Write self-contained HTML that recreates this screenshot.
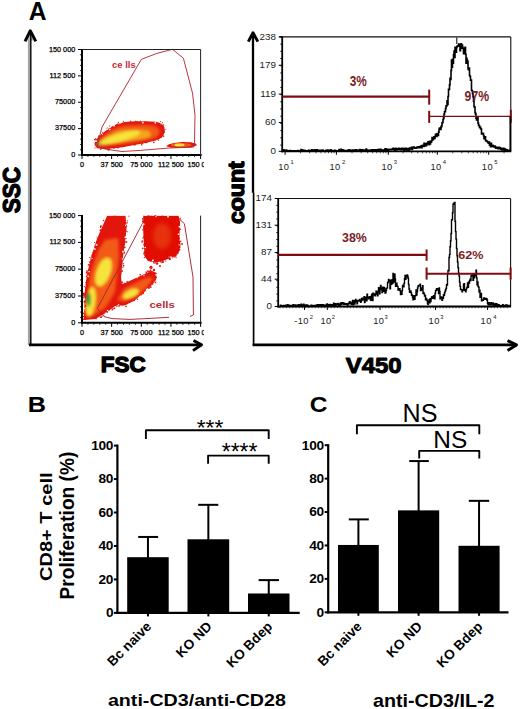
<!DOCTYPE html>
<html><head><meta charset="utf-8"><style>
html,body{margin:0;padding:0;background:#fff;}
body{width:520px;height:709px;overflow:hidden;}
svg{display:block;font-family:"Liberation Sans",sans-serif;}
</style></head><body>
<svg width="520" height="709" viewBox="0 0 520 709">
<rect width="520" height="709" fill="#fff"/>
<text transform="translate(28.68 19.50) scale(0.9879 1)" font-size="24.93" font-weight="bold" fill="#000">A</text>
<rect x="27.90" y="34.00" width="2.40" height="311.00" fill="#a2a2a2"/>
<path d="M27 40.6 L30.4 33.5 L34 40.6 Z" fill="#b0b0b0"/>
<line x1="30.80" y1="31.00" x2="30.80" y2="345.40" stroke="#000" stroke-width="1.40"/>
<path d="M25.0 41.4 L30.3 30.7 L35.8 41.4" fill="none" stroke="#000" stroke-width="2.90" stroke-linejoin="round"/>
<line x1="29.00" y1="344.80" x2="202.00" y2="344.80" stroke="#000" stroke-width="2.70"/>
<path d="M193.5 340.4 L201.5 344.8 L193.0 350.6" fill="none" stroke="#000" stroke-width="2.90" stroke-linejoin="round"/>
<text transform="translate(20.00 213.33) rotate(-90) scale(0.9189 1)" font-size="24.65" font-weight="bold" fill="#000" stroke="#000" stroke-width="1.30" stroke-linejoin="round">SSC</text>
<text transform="translate(100.79 371.73) scale(1.0288 1)" font-size="21.83" font-weight="bold" fill="#000" stroke="#000" stroke-width="1.30" stroke-linejoin="round">FSC</text>
<line x1="253.00" y1="33.00" x2="253.00" y2="192.80" stroke="#000" stroke-width="2.30"/>
<line x1="253.60" y1="192.60" x2="253.60" y2="345.40" stroke="#000" stroke-width="1.70"/>
<path d="M248.3 41.6 L253.0 32.8 L257.9 41.6" fill="none" stroke="#000" stroke-width="2.90" stroke-linejoin="round"/>
<line x1="252.60" y1="344.90" x2="516.00" y2="344.90" stroke="#000" stroke-width="2.70"/>
<path d="M507.5 340.6 L516.5 344.9 L507.5 350.5" fill="none" stroke="#000" stroke-width="2.90" stroke-linejoin="round"/>
<text transform="translate(243.74 224.07) rotate(-90) scale(1.0899 1)" font-size="21.20" font-weight="bold" fill="#000" stroke="#000" stroke-width="1.30" stroke-linejoin="round">count</text>
<text transform="translate(345.66 372.87) scale(1.0446 1)" font-size="22.96" font-weight="bold" fill="#000" stroke="#000" stroke-width="1.00" stroke-linejoin="round">V450</text>
<defs><clipPath id="p2clip"><rect x="82.5" y="215.6" width="118" height="107"/></clipPath><clipPath id="p1clip"><rect x="82.5" y="49.5" width="118" height="105"/></clipPath></defs>
<defs><clipPath id="xclip"><rect x="0" y="0" width="204" height="709"/></clipPath></defs>
<defs>
<filter id="bl1" x="-20%" y="-20%" width="140%" height="140%"><feGaussianBlur stdDeviation="1.6"/></filter>
<filter id="bl2" x="-20%" y="-20%" width="140%" height="140%"><feGaussianBlur stdDeviation="0.5"/></filter>
<filter id="bl3" x="-50%" y="-50%" width="200%" height="200%"><feGaussianBlur stdDeviation="2.2"/></filter>
</defs>
<path d="M94.2 144.6 L95.5 141.0 L97.7 137.7 L101.5 134.0 L105.8 130.8 L111.0 127.0 L117.3 123.8 L125.0 122.0 L135.0 121.2 L145.0 121.2 L156.0 121.8 L161.5 123.5 L164.3 127.0 L165.0 132.0 L162.0 137.5 L156.0 140.5 L140.0 144.0 L122.0 147.3 L106.0 149.0 L97.0 148.3 Z" fill="#e3120b" filter="url(#bl2)"/>
<g filter="url(#bl1)">
<path d="M98.9 141.9 L100.0 139.3 L101.9 136.9 L105.2 134.3 L108.9 132.0 L113.4 129.2 L118.8 126.9 L125.4 125.6 L134.0 125.1 L142.6 125.1 L152.1 125.5 L156.8 126.7 L159.2 129.2 L159.8 132.8 L157.2 136.8 L152.1 139.0 L138.3 141.5 L122.8 143.9 L109.1 145.1 L101.3 144.6 Z" fill="#f25a12"/>
<path d="M104.3 140.4 L105.2 138.8 L106.6 137.3 L109.2 135.7 L112.0 134.2 L115.4 132.5 L119.6 131.1 L124.7 130.2 L131.3 129.9 L137.9 129.9 L145.1 130.2 L148.8 130.9 L150.6 132.5 L151.1 134.8 L149.1 137.2 L145.1 138.6 L134.6 140.2 L122.7 141.6 L112.1 142.4 L106.2 142.1 Z" fill="#f3a51e"/>
<ellipse cx="119" cy="138" rx="22" ry="4.2" transform="rotate(-16 119 138)" fill="#f6e33a"/>
<ellipse cx="99.5" cy="143.5" rx="2.6" ry="2.2" fill="#9ccf3c"/>
</g>
<g><rect x="106.8" y="128.0" width="1.0" height="1.0" fill="#dc1a10"/><rect x="162.1" y="127.0" width="1.5" height="1.5" fill="#dc1a10"/><rect x="156.1" y="139.6" width="1.1" height="1.1" fill="#ffffff"/><rect x="95.6" y="139.8" width="1.7" height="1.7" fill="#dc1a10"/><rect x="109.0" y="125.6" width="1.3" height="1.3" fill="#dc1a10"/><rect x="103.7" y="147.8" width="0.9" height="0.9" fill="#dc1a10"/><rect x="100.8" y="135.5" width="1.1" height="1.1" fill="#dc1a10"/><rect x="106.7" y="127.6" width="1.3" height="1.3" fill="#dc1a10"/><rect x="100.0" y="148.4" width="1.5" height="1.5" fill="#dc1a10"/><rect x="153.1" y="141.7" width="1.4" height="1.4" fill="#dc1a10"/><rect x="144.6" y="121.6" width="1.5" height="1.5" fill="#dc1a10"/><rect x="165.4" y="128.8" width="0.9" height="0.9" fill="#dc1a10"/><rect x="146.0" y="141.2" width="1.7" height="1.7" fill="#dc1a10"/><rect x="129.7" y="122.1" width="1.2" height="1.2" fill="#dc1a10"/><rect x="109.2" y="128.8" width="1.4" height="1.4" fill="#ffffff"/><rect x="126.2" y="144.9" width="1.0" height="1.0" fill="#dc1a10"/><rect x="145.3" y="142.6" width="0.9" height="0.9" fill="#dc1a10"/><rect x="162.7" y="129.1" width="1.4" height="1.4" fill="#dc1a10"/><rect x="121.5" y="146.1" width="1.2" height="1.2" fill="#dc1a10"/><rect x="161.6" y="134.0" width="1.2" height="1.2" fill="#dc1a10"/><rect x="94.5" y="147.4" width="1.0" height="1.0" fill="#dc1a10"/><rect x="117.9" y="122.5" width="1.6" height="1.6" fill="#ffffff"/><rect x="162.7" y="135.4" width="1.5" height="1.5" fill="#dc1a10"/><rect x="162.9" y="124.4" width="1.3" height="1.3" fill="#dc1a10"/><rect x="142.2" y="121.9" width="1.5" height="1.5" fill="#ffffff"/><rect x="158.0" y="139.7" width="1.1" height="1.1" fill="#dc1a10"/><rect x="122.9" y="120.9" width="1.0" height="1.0" fill="#dc1a10"/><rect x="123.9" y="145.9" width="1.1" height="1.1" fill="#dc1a10"/><rect x="113.5" y="147.9" width="1.1" height="1.1" fill="#dc1a10"/><rect x="106.9" y="128.2" width="1.5" height="1.5" fill="#dc1a10"/><rect x="160.4" y="123.4" width="1.2" height="1.2" fill="#ffffff"/><rect x="129.8" y="120.7" width="1.3" height="1.3" fill="#dc1a10"/><rect x="101.9" y="133.8" width="1.0" height="1.0" fill="#ffffff"/><rect x="108.8" y="147.6" width="0.9" height="0.9" fill="#dc1a10"/><rect x="154.6" y="122.1" width="1.5" height="1.5" fill="#ffffff"/><rect x="109.4" y="126.3" width="1.5" height="1.5" fill="#ffffff"/><rect x="144.5" y="141.6" width="1.2" height="1.2" fill="#dc1a10"/><rect x="117.7" y="122.3" width="1.0" height="1.0" fill="#dc1a10"/><rect x="107.8" y="149.2" width="1.5" height="1.5" fill="#dc1a10"/><rect x="120.1" y="122.2" width="1.3" height="1.3" fill="#ffffff"/><rect x="95.5" y="138.9" width="1.3" height="1.3" fill="#dc1a10"/><rect x="117.2" y="121.9" width="1.5" height="1.5" fill="#dc1a10"/><rect x="141.2" y="120.7" width="1.0" height="1.0" fill="#ffffff"/><rect x="162.0" y="122.3" width="1.0" height="1.0" fill="#dc1a10"/><rect x="107.1" y="148.6" width="1.2" height="1.2" fill="#dc1a10"/><rect x="141.0" y="144.1" width="1.4" height="1.4" fill="#dc1a10"/><rect x="140.0" y="120.8" width="1.3" height="1.3" fill="#dc1a10"/><rect x="95.4" y="141.6" width="1.6" height="1.6" fill="#dc1a10"/><rect x="112.1" y="126.9" width="1.0" height="1.0" fill="#dc1a10"/><rect x="94.2" y="144.5" width="0.9" height="0.9" fill="#ffffff"/><rect x="160.1" y="121.1" width="1.0" height="1.0" fill="#dc1a10"/><rect x="141.6" y="142.5" width="1.5" height="1.5" fill="#dc1a10"/><rect x="97.9" y="136.2" width="1.1" height="1.1" fill="#dc1a10"/><rect x="94.9" y="138.3" width="1.3" height="1.3" fill="#dc1a10"/><rect x="116.6" y="146.6" width="1.7" height="1.7" fill="#dc1a10"/><rect x="157.5" y="137.4" width="1.2" height="1.2" fill="#dc1a10"/><rect x="135.1" y="120.7" width="1.0" height="1.0" fill="#dc1a10"/><rect x="136.3" y="121.4" width="1.5" height="1.5" fill="#dc1a10"/><rect x="102.0" y="132.3" width="0.9" height="0.9" fill="#dc1a10"/><rect x="113.2" y="124.8" width="1.6" height="1.6" fill="#ffffff"/><rect x="95.2" y="140.3" width="1.6" height="1.6" fill="#ffffff"/><rect x="118.0" y="146.8" width="1.2" height="1.2" fill="#dc1a10"/><rect x="160.3" y="124.0" width="1.0" height="1.0" fill="#dc1a10"/><rect x="106.6" y="128.2" width="1.6" height="1.6" fill="#ffffff"/><rect x="133.9" y="144.0" width="1.6" height="1.6" fill="#dc1a10"/><rect x="116.4" y="121.9" width="1.4" height="1.4" fill="#ffffff"/><rect x="98.5" y="135.1" width="1.1" height="1.1" fill="#dc1a10"/><rect x="156.3" y="138.8" width="1.2" height="1.2" fill="#dc1a10"/><rect x="108.8" y="148.6" width="1.3" height="1.3" fill="#dc1a10"/><rect x="93.9" y="139.0" width="1.3" height="1.3" fill="#dc1a10"/></g>
<path d="M166.0 146.2 L169.0 144.3 L174.0 143.0 L182.0 142.1 L191.0 142.2 L196.3 143.8 L196.6 145.6 L191.0 147.4 L180.0 147.9 L171.0 147.6 Z" fill="#e3120b" filter="url(#bl2)"/>
<ellipse cx="181" cy="145" rx="10.5" ry="2.1" fill="#f25a12" filter="url(#bl2)"/>
<ellipse cx="179.5" cy="144.9" rx="5" ry="1.4" fill="#f6e33a" filter="url(#bl2)"/>
<path d="M102.0 127.0 L141.3 59.4 L156.9 53.4 L172.5 49.3 L183.4 58.2 L192.5 93.1 L195.0 115.0 L194.5 143.6 L193.5 147.0 L168.0 148.1 L140.4 150.4 L122.0 151.5 L105.8 149.2 L97.0 147.0 Z" fill="none" stroke="#b52a36" stroke-width="0.95" stroke-linejoin="round"/>
<text transform="translate(112.12 67.91) scale(1.0036 1)" font-size="9.39" font-weight="bold" fill="#c82a34">ce lls</text>
<g clip-path="url(#p2clip)">
<path d="M83.9 320.0 L84.7 292.7 L87.0 274.1 L91.6 255.5 L97.1 238.4 L103.3 224.4 L107.2 215.8 L125.5 215.8 L126.6 227.5 L125.0 243.0 L122.7 258.6 L121.1 277.2 L121.9 284.0 L124.2 283.5 L137.0 277.5 L146.0 273.5 L152.5 271.0 L157.0 273.5 L156.0 280.0 L150.0 287.0 L142.0 294.0 L134.0 301.0 L124.2 305.5 L115.7 305.5 L108.0 311.4 L95.5 319.1 Z" fill="#e3120b" filter="url(#bl2)"/>
<g filter="url(#bl1)">
<path d="M86.8 316.0 L87.5 296.0 L90.0 276.0 L94.0 262.0 L99.0 249.0 L105.0 240.0 L118.0 238.0 L119.0 255.0 L117.0 275.0 L115.0 292.0 L106.0 307.0 L93.0 316.0 Z" fill="#f25a12"/>
<path d="M117.0 300.0 L124.0 288.5 L137.0 282.0 L148.0 277.0 L153.0 278.0 L148.0 286.0 L138.0 295.0 L124.0 301.5 Z" fill="#f25a12"/>
<ellipse cx="103.5" cy="272" rx="7" ry="15" transform="rotate(20 103.5 272)" fill="#f6e33a"/>
<ellipse cx="90.5" cy="302" rx="5" ry="15" transform="rotate(8 90.5 302)" fill="#f6e33a"/>
<ellipse cx="131" cy="294" rx="8.5" ry="4.2" transform="rotate(-25 131 294)" fill="#f6e33a"/>
<ellipse cx="88.6" cy="299.5" rx="2.4" ry="7" fill="#3f9a38"/>
</g>
<g><rect x="97.5" y="239.6" width="1.4" height="1.4" fill="#dc140c"/><rect x="99.6" y="315.2" width="0.9" height="0.9" fill="#dc140c"/><rect x="90.6" y="258.6" width="0.9" height="0.9" fill="#ffffff"/><rect x="88.9" y="261.5" width="1.1" height="1.1" fill="#dc140c"/><rect x="112.5" y="215.8" width="1.4" height="1.4" fill="#dc140c"/><rect x="94.5" y="245.7" width="1.1" height="1.1" fill="#dc140c"/><rect x="143.0" y="274.7" width="1.4" height="1.4" fill="#ffffff"/><rect x="85.3" y="281.9" width="1.4" height="1.4" fill="#dc140c"/><rect x="114.4" y="307.6" width="1.0" height="1.0" fill="#dc140c"/><rect x="124.8" y="303.3" width="1.1" height="1.1" fill="#dc140c"/><rect x="82.8" y="318.3" width="1.6" height="1.6" fill="#dc140c"/><rect x="122.8" y="264.9" width="1.5" height="1.5" fill="#dc140c"/><rect x="84.6" y="284.7" width="1.1" height="1.1" fill="#ffffff"/><rect x="96.1" y="236.8" width="1.1" height="1.1" fill="#dc140c"/><rect x="125.0" y="224.7" width="1.3" height="1.3" fill="#ffffff"/><rect x="124.6" y="236.4" width="1.6" height="1.6" fill="#ffffff"/><rect x="125.5" y="241.2" width="1.7" height="1.7" fill="#dc140c"/><rect x="105.2" y="312.6" width="1.5" height="1.5" fill="#ffffff"/><rect x="95.7" y="236.2" width="1.4" height="1.4" fill="#ffffff"/><rect x="91.3" y="259.2" width="0.9" height="0.9" fill="#dc140c"/><rect x="143.0" y="274.5" width="1.1" height="1.1" fill="#dc140c"/><rect x="100.1" y="316.1" width="1.6" height="1.6" fill="#ffffff"/><rect x="106.7" y="311.8" width="1.0" height="1.0" fill="#dc140c"/><rect x="118.0" y="304.4" width="1.3" height="1.3" fill="#ffffff"/><rect x="84.0" y="298.5" width="1.1" height="1.1" fill="#ffffff"/><rect x="103.3" y="314.9" width="1.0" height="1.0" fill="#dc140c"/><rect x="136.6" y="277.1" width="1.1" height="1.1" fill="#ffffff"/><rect x="120.8" y="303.3" width="1.3" height="1.3" fill="#dc140c"/><rect x="124.3" y="222.1" width="1.0" height="1.0" fill="#dc140c"/><rect x="92.0" y="248.7" width="1.0" height="1.0" fill="#ffffff"/><rect x="142.8" y="292.7" width="1.0" height="1.0" fill="#dc140c"/><rect x="139.6" y="274.0" width="1.4" height="1.4" fill="#dc140c"/><rect x="145.8" y="289.2" width="1.6" height="1.6" fill="#ffffff"/><rect x="91.5" y="254.5" width="1.7" height="1.7" fill="#dc140c"/><rect x="85.9" y="275.6" width="1.6" height="1.6" fill="#dc140c"/><rect x="150.0" y="286.4" width="1.5" height="1.5" fill="#dc140c"/><rect x="82.2" y="312.5" width="1.7" height="1.7" fill="#dc140c"/><rect x="100.4" y="315.9" width="1.6" height="1.6" fill="#ffffff"/><rect x="87.4" y="275.6" width="1.5" height="1.5" fill="#ffffff"/><rect x="122.0" y="284.4" width="1.5" height="1.5" fill="#dc140c"/><rect x="125.8" y="225.3" width="1.3" height="1.3" fill="#dc140c"/><rect x="106.5" y="217.8" width="1.4" height="1.4" fill="#dc140c"/><rect x="87.8" y="264.0" width="1.6" height="1.6" fill="#dc140c"/><rect x="146.3" y="290.6" width="1.4" height="1.4" fill="#ffffff"/><rect x="108.0" y="309.2" width="1.4" height="1.4" fill="#dc140c"/><rect x="155.9" y="277.0" width="1.0" height="1.0" fill="#dc140c"/><rect x="121.4" y="281.6" width="1.6" height="1.6" fill="#dc140c"/><rect x="154.6" y="272.5" width="1.4" height="1.4" fill="#dc140c"/><rect x="121.3" y="263.2" width="1.3" height="1.3" fill="#dc140c"/><rect x="121.3" y="270.3" width="1.6" height="1.6" fill="#dc140c"/><rect x="111.6" y="309.3" width="1.2" height="1.2" fill="#dc140c"/><rect x="99.6" y="229.3" width="1.7" height="1.7" fill="#dc140c"/><rect x="93.8" y="248.3" width="1.2" height="1.2" fill="#ffffff"/><rect x="100.2" y="316.4" width="1.6" height="1.6" fill="#dc140c"/><rect x="101.4" y="315.8" width="1.1" height="1.1" fill="#dc140c"/><rect x="123.9" y="243.8" width="1.1" height="1.1" fill="#dc140c"/><rect x="140.6" y="294.1" width="1.3" height="1.3" fill="#dc140c"/><rect x="154.7" y="281.7" width="1.5" height="1.5" fill="#dc140c"/><rect x="99.8" y="317.0" width="1.0" height="1.0" fill="#dc140c"/><rect x="83.0" y="292.7" width="1.3" height="1.3" fill="#dc140c"/><rect x="113.5" y="307.6" width="1.5" height="1.5" fill="#dc140c"/><rect x="123.4" y="251.5" width="1.5" height="1.5" fill="#dc140c"/><rect x="123.9" y="234.9" width="1.3" height="1.3" fill="#dc140c"/><rect x="147.3" y="270.8" width="1.0" height="1.0" fill="#dc140c"/><rect x="126.6" y="281.0" width="1.2" height="1.2" fill="#dc140c"/><rect x="127.2" y="231.3" width="1.0" height="1.0" fill="#dc140c"/><rect x="99.9" y="226.5" width="1.4" height="1.4" fill="#dc140c"/><rect x="106.9" y="309.9" width="1.5" height="1.5" fill="#ffffff"/><rect x="136.8" y="298.7" width="1.2" height="1.2" fill="#dc140c"/><rect x="83.8" y="286.1" width="1.0" height="1.0" fill="#dc140c"/><rect x="126.5" y="220.5" width="1.4" height="1.4" fill="#dc140c"/><rect x="148.9" y="285.3" width="1.3" height="1.3" fill="#dc140c"/><rect x="118.3" y="305.1" width="1.6" height="1.6" fill="#dc140c"/><rect x="95.5" y="318.2" width="1.2" height="1.2" fill="#dc140c"/><rect x="94.0" y="242.1" width="0.9" height="0.9" fill="#dc140c"/><rect x="113.8" y="304.5" width="1.4" height="1.4" fill="#dc140c"/><rect x="150.6" y="272.1" width="1.2" height="1.2" fill="#dc140c"/><rect x="83.1" y="297.2" width="1.1" height="1.1" fill="#dc140c"/><rect x="92.6" y="251.8" width="1.4" height="1.4" fill="#dc140c"/><rect x="90.1" y="258.6" width="1.0" height="1.0" fill="#dc140c"/><rect x="82.8" y="293.9" width="1.7" height="1.7" fill="#dc140c"/><rect x="147.2" y="270.4" width="1.4" height="1.4" fill="#dc140c"/><rect x="104.5" y="221.9" width="1.0" height="1.0" fill="#dc140c"/><rect x="149.1" y="271.2" width="1.4" height="1.4" fill="#dc140c"/><rect x="84.5" y="292.6" width="1.6" height="1.6" fill="#dc140c"/><rect x="121.0" y="304.2" width="1.2" height="1.2" fill="#dc140c"/><rect x="150.3" y="271.0" width="1.6" height="1.6" fill="#dc140c"/><rect x="144.8" y="289.6" width="0.9" height="0.9" fill="#dc140c"/><rect x="123.8" y="282.8" width="1.3" height="1.3" fill="#dc140c"/><rect x="125.6" y="238.1" width="1.0" height="1.0" fill="#dc140c"/><rect x="89.2" y="256.9" width="1.2" height="1.2" fill="#dc140c"/><rect x="100.2" y="313.5" width="1.1" height="1.1" fill="#dc140c"/><rect x="85.8" y="271.9" width="1.6" height="1.6" fill="#dc140c"/><rect x="121.7" y="258.5" width="1.0" height="1.0" fill="#ffffff"/><rect x="86.1" y="280.0" width="1.2" height="1.2" fill="#dc140c"/><rect x="85.7" y="284.0" width="1.7" height="1.7" fill="#dc140c"/><rect x="151.0" y="271.9" width="1.6" height="1.6" fill="#dc140c"/><rect x="115.2" y="304.7" width="1.3" height="1.3" fill="#dc140c"/><rect x="123.5" y="238.8" width="1.5" height="1.5" fill="#dc140c"/><rect x="142.3" y="293.0" width="1.3" height="1.3" fill="#dc140c"/><rect x="125.2" y="305.6" width="1.5" height="1.5" fill="#dc140c"/><rect x="123.1" y="263.2" width="1.0" height="1.0" fill="#dc140c"/><rect x="146.6" y="288.5" width="1.4" height="1.4" fill="#ffffff"/><rect x="100.6" y="226.3" width="0.9" height="0.9" fill="#dc140c"/><rect x="88.5" y="271.0" width="1.3" height="1.3" fill="#ffffff"/><rect x="88.8" y="258.0" width="1.4" height="1.4" fill="#ffffff"/><rect x="83.1" y="317.2" width="1.0" height="1.0" fill="#dc140c"/><rect x="84.3" y="296.2" width="1.3" height="1.3" fill="#dc140c"/><rect x="151.6" y="282.4" width="1.0" height="1.0" fill="#dc140c"/><rect x="112.0" y="308.4" width="1.4" height="1.4" fill="#dc140c"/><rect x="85.0" y="300.9" width="0.9" height="0.9" fill="#dc140c"/><rect x="155.5" y="274.1" width="1.6" height="1.6" fill="#ffffff"/><rect x="146.2" y="289.1" width="1.4" height="1.4" fill="#ffffff"/><rect x="145.5" y="271.3" width="1.1" height="1.1" fill="#dc140c"/><rect x="122.1" y="250.9" width="1.6" height="1.6" fill="#ffffff"/><rect x="124.7" y="247.2" width="0.9" height="0.9" fill="#ffffff"/><rect x="150.5" y="272.1" width="1.2" height="1.2" fill="#dc140c"/><rect x="96.0" y="241.2" width="1.0" height="1.0" fill="#dc140c"/><rect x="151.9" y="283.2" width="1.5" height="1.5" fill="#dc140c"/><rect x="91.5" y="257.7" width="1.1" height="1.1" fill="#ffffff"/><rect x="84.0" y="308.0" width="1.0" height="1.0" fill="#ffffff"/><rect x="103.3" y="313.2" width="1.0" height="1.0" fill="#dc140c"/><rect x="85.8" y="290.1" width="1.3" height="1.3" fill="#dc140c"/><rect x="91.9" y="256.2" width="1.6" height="1.6" fill="#dc140c"/><rect x="83.6" y="300.9" width="1.7" height="1.7" fill="#dc140c"/><rect x="82.5" y="315.9" width="1.6" height="1.6" fill="#dc140c"/><rect x="86.9" y="279.1" width="1.7" height="1.7" fill="#dc140c"/><rect x="107.0" y="311.4" width="1.0" height="1.0" fill="#dc140c"/><rect x="149.7" y="269.5" width="1.6" height="1.6" fill="#dc140c"/><rect x="124.7" y="221.0" width="1.1" height="1.1" fill="#dc140c"/><rect x="82.0" y="317.0" width="1.7" height="1.7" fill="#ffffff"/><rect x="133.9" y="300.1" width="1.0" height="1.0" fill="#dc140c"/><rect x="124.0" y="246.6" width="1.5" height="1.5" fill="#dc140c"/><rect x="126.0" y="302.9" width="1.4" height="1.4" fill="#dc140c"/><rect x="123.7" y="253.1" width="1.0" height="1.0" fill="#dc140c"/><rect x="84.2" y="293.7" width="1.6" height="1.6" fill="#dc140c"/><rect x="83.3" y="295.2" width="1.5" height="1.5" fill="#dc140c"/><rect x="144.5" y="293.0" width="0.9" height="0.9" fill="#ffffff"/><rect x="94.6" y="248.5" width="1.2" height="1.2" fill="#ffffff"/><rect x="86.2" y="270.4" width="1.5" height="1.5" fill="#dc140c"/><rect x="126.2" y="222.0" width="1.5" height="1.5" fill="#dc140c"/><rect x="98.6" y="236.5" width="1.3" height="1.3" fill="#dc140c"/><rect x="98.2" y="231.0" width="0.9" height="0.9" fill="#ffffff"/><rect x="141.9" y="291.9" width="1.6" height="1.6" fill="#dc140c"/><rect x="124.1" y="241.6" width="1.3" height="1.3" fill="#dc140c"/><rect x="84.7" y="319.0" width="1.0" height="1.0" fill="#dc140c"/><rect x="86.1" y="287.7" width="1.0" height="1.0" fill="#dc140c"/><rect x="100.1" y="225.4" width="1.6" height="1.6" fill="#dc140c"/><rect x="117.8" y="304.4" width="1.0" height="1.0" fill="#ffffff"/><rect x="126.0" y="230.8" width="0.9" height="0.9" fill="#dc140c"/><rect x="148.2" y="287.3" width="1.5" height="1.5" fill="#dc140c"/><rect x="125.4" y="230.0" width="0.9" height="0.9" fill="#dc140c"/><rect x="125.9" y="220.9" width="1.5" height="1.5" fill="#ffffff"/><rect x="116.3" y="305.9" width="1.1" height="1.1" fill="#dc140c"/><rect x="102.9" y="219.8" width="1.3" height="1.3" fill="#dc140c"/><rect x="122.4" y="266.7" width="1.1" height="1.1" fill="#dc140c"/><rect x="120.2" y="272.4" width="1.2" height="1.2" fill="#dc140c"/><rect x="84.7" y="305.2" width="1.5" height="1.5" fill="#dc140c"/><rect x="84.9" y="287.3" width="1.0" height="1.0" fill="#dc140c"/><rect x="95.8" y="244.1" width="1.6" height="1.6" fill="#ffffff"/></g>
<path d="M104.0 316.6 L97.3 308.5 L124.2 258.0 L143.5 221.5 L146.3 218.7 L177.5 217.3 L184.4 223.7 L193.0 277.0 L193.4 315.0 L190.0 316.4" fill="none" stroke="#a8262e" stroke-width="0.95" stroke-linejoin="round"/>
<path d="M104.0 316.6 L112.0 318.6 L130.0 319.4 L150.0 318.4 L169.0 317.3" fill="none" stroke="#a8262e" stroke-width="0.95" stroke-linejoin="round"/>
<path d="M143.5 216.0 L146.0 215.8 L178.5 215.8 L180.0 222.0 L179.5 235.0 L180.5 245.0 L179.0 252.0 L176.0 256.0 L170.0 258.0 L163.0 261.0 L155.0 262.5 L148.0 261.0 L145.0 257.0 L144.0 248.0 L143.3 232.0 Z" fill="#e00a06" filter="url(#bl2)"/>
<ellipse cx="162" cy="236" rx="9" ry="13" fill="#e6300e" filter="url(#bl3)"/>
<g><rect x="143.4" y="235.7" width="1.7" height="1.7" fill="#d80c08"/><rect x="142.3" y="237.4" width="1.2" height="1.2" fill="#d80c08"/><rect x="143.8" y="244.0" width="1.3" height="1.3" fill="#d80c08"/><rect x="180.3" y="219.6" width="1.0" height="1.0" fill="#d80c08"/><rect x="154.5" y="215.0" width="1.4" height="1.4" fill="#d80c08"/><rect x="143.3" y="223.5" width="1.3" height="1.3" fill="#ffffff"/><rect x="159.8" y="261.1" width="1.2" height="1.2" fill="#d80c08"/><rect x="143.0" y="213.7" width="1.5" height="1.5" fill="#d80c08"/><rect x="143.6" y="229.1" width="1.1" height="1.1" fill="#d80c08"/><rect x="141.9" y="217.5" width="1.5" height="1.5" fill="#ffffff"/><rect x="178.7" y="223.6" width="1.0" height="1.0" fill="#d80c08"/><rect x="143.6" y="243.8" width="0.9" height="0.9" fill="#d80c08"/><rect x="155.3" y="215.8" width="1.3" height="1.3" fill="#ffffff"/><rect x="178.5" y="246.1" width="1.6" height="1.6" fill="#d80c08"/><rect x="144.6" y="243.1" width="1.0" height="1.0" fill="#d80c08"/><rect x="180.6" y="242.1" width="1.0" height="1.0" fill="#ffffff"/><rect x="173.5" y="256.4" width="1.3" height="1.3" fill="#d80c08"/><rect x="160.6" y="216.8" width="1.2" height="1.2" fill="#d80c08"/><rect x="141.8" y="243.6" width="1.4" height="1.4" fill="#ffffff"/><rect x="174.9" y="253.8" width="1.4" height="1.4" fill="#d80c08"/><rect x="179.7" y="217.6" width="1.2" height="1.2" fill="#d80c08"/><rect x="143.3" y="249.4" width="1.1" height="1.1" fill="#ffffff"/><rect x="142.5" y="218.5" width="1.3" height="1.3" fill="#d80c08"/><rect x="170.2" y="256.4" width="1.5" height="1.5" fill="#ffffff"/><rect x="145.4" y="255.2" width="1.1" height="1.1" fill="#d80c08"/><rect x="143.1" y="216.5" width="1.2" height="1.2" fill="#d80c08"/><rect x="147.3" y="214.4" width="1.5" height="1.5" fill="#d80c08"/><rect x="162.1" y="261.4" width="1.3" height="1.3" fill="#d80c08"/><rect x="142.0" y="220.3" width="1.4" height="1.4" fill="#d80c08"/><rect x="160.5" y="214.0" width="1.6" height="1.6" fill="#ffffff"/><rect x="176.8" y="216.0" width="1.1" height="1.1" fill="#d80c08"/><rect x="169.0" y="258.4" width="1.5" height="1.5" fill="#d80c08"/><rect x="144.9" y="257.6" width="1.0" height="1.0" fill="#ffffff"/><rect x="168.8" y="258.7" width="1.4" height="1.4" fill="#d80c08"/><rect x="169.2" y="257.7" width="1.1" height="1.1" fill="#d80c08"/><rect x="150.8" y="215.6" width="1.0" height="1.0" fill="#d80c08"/><rect x="144.4" y="254.9" width="1.3" height="1.3" fill="#d80c08"/><rect x="179.2" y="228.7" width="1.3" height="1.3" fill="#d80c08"/><rect x="154.2" y="215.1" width="1.1" height="1.1" fill="#d80c08"/><rect x="143.5" y="221.5" width="1.7" height="1.7" fill="#d80c08"/><rect x="153.0" y="261.7" width="1.1" height="1.1" fill="#d80c08"/><rect x="179.0" y="249.2" width="1.1" height="1.1" fill="#d80c08"/><rect x="145.1" y="255.7" width="1.5" height="1.5" fill="#d80c08"/><rect x="178.4" y="252.7" width="1.2" height="1.2" fill="#ffffff"/><rect x="161.8" y="215.1" width="1.3" height="1.3" fill="#d80c08"/><rect x="161.2" y="261.6" width="1.5" height="1.5" fill="#d80c08"/><rect x="145.3" y="253.7" width="1.2" height="1.2" fill="#d80c08"/><rect x="144.4" y="254.3" width="1.0" height="1.0" fill="#d80c08"/><rect x="168.0" y="256.4" width="1.3" height="1.3" fill="#ffffff"/><rect x="143.0" y="226.2" width="1.3" height="1.3" fill="#d80c08"/><rect x="142.3" y="223.6" width="1.2" height="1.2" fill="#ffffff"/><rect x="144.0" y="234.4" width="1.1" height="1.1" fill="#d80c08"/><rect x="179.6" y="236.2" width="1.7" height="1.7" fill="#ffffff"/><rect x="178.2" y="221.0" width="1.2" height="1.2" fill="#d80c08"/><rect x="172.0" y="257.6" width="1.2" height="1.2" fill="#d80c08"/><rect x="153.6" y="262.9" width="1.0" height="1.0" fill="#d80c08"/><rect x="167.4" y="216.6" width="1.1" height="1.1" fill="#d80c08"/><rect x="167.3" y="257.7" width="1.3" height="1.3" fill="#d80c08"/><rect x="178.9" y="246.3" width="1.5" height="1.5" fill="#d80c08"/><rect x="143.1" y="214.2" width="1.1" height="1.1" fill="#d80c08"/><rect x="181.2" y="243.2" width="1.6" height="1.6" fill="#d80c08"/><rect x="179.9" y="240.6" width="1.4" height="1.4" fill="#d80c08"/><rect x="142.6" y="220.9" width="1.3" height="1.3" fill="#d80c08"/><rect x="151.3" y="214.4" width="1.0" height="1.0" fill="#d80c08"/><rect x="143.8" y="226.4" width="0.9" height="0.9" fill="#d80c08"/><rect x="142.1" y="229.3" width="1.2" height="1.2" fill="#d80c08"/><rect x="161.9" y="260.4" width="1.0" height="1.0" fill="#d80c08"/><rect x="171.2" y="213.7" width="1.4" height="1.4" fill="#d80c08"/><rect x="144.5" y="246.9" width="1.5" height="1.5" fill="#ffffff"/><rect x="167.2" y="215.8" width="1.6" height="1.6" fill="#ffffff"/><rect x="178.8" y="228.5" width="1.6" height="1.6" fill="#d80c08"/><rect x="152.0" y="259.6" width="1.7" height="1.7" fill="#ffffff"/><rect x="178.6" y="244.3" width="1.1" height="1.1" fill="#ffffff"/><rect x="179.8" y="250.1" width="1.0" height="1.0" fill="#ffffff"/><rect x="178.6" y="225.9" width="1.5" height="1.5" fill="#ffffff"/><rect x="148.4" y="214.4" width="1.5" height="1.5" fill="#d80c08"/><rect x="177.5" y="235.0" width="1.1" height="1.1" fill="#d80c08"/><rect x="144.7" y="241.8" width="0.9" height="0.9" fill="#d80c08"/><rect x="141.4" y="241.1" width="1.5" height="1.5" fill="#d80c08"/><rect x="155.2" y="215.1" width="1.3" height="1.3" fill="#d80c08"/><rect x="167.7" y="256.3" width="1.4" height="1.4" fill="#d80c08"/><rect x="177.8" y="233.6" width="1.4" height="1.4" fill="#ffffff"/><rect x="177.8" y="240.5" width="1.6" height="1.6" fill="#d80c08"/><rect x="143.7" y="217.3" width="1.1" height="1.1" fill="#d80c08"/><rect x="143.4" y="244.4" width="1.1" height="1.1" fill="#d80c08"/><rect x="174.8" y="255.3" width="1.5" height="1.5" fill="#d80c08"/><rect x="175.6" y="257.2" width="1.0" height="1.0" fill="#d80c08"/><rect x="143.6" y="227.8" width="1.6" height="1.6" fill="#d80c08"/><rect x="177.8" y="237.1" width="1.2" height="1.2" fill="#d80c08"/><rect x="144.2" y="248.3" width="1.5" height="1.5" fill="#d80c08"/><rect x="143.8" y="257.0" width="1.1" height="1.1" fill="#d80c08"/><rect x="145.3" y="255.2" width="1.1" height="1.1" fill="#d80c08"/><rect x="178.9" y="249.0" width="1.4" height="1.4" fill="#d80c08"/><rect x="148.9" y="262.3" width="1.0" height="1.0" fill="#ffffff"/><rect x="141.7" y="240.2" width="1.0" height="1.0" fill="#d80c08"/><rect x="178.5" y="224.9" width="1.1" height="1.1" fill="#d80c08"/><rect x="143.7" y="251.1" width="1.7" height="1.7" fill="#d80c08"/><rect x="177.3" y="252.6" width="1.2" height="1.2" fill="#d80c08"/><rect x="171.4" y="258.0" width="1.3" height="1.3" fill="#ffffff"/><rect x="177.1" y="250.1" width="1.2" height="1.2" fill="#d80c08"/><rect x="177.9" y="236.9" width="1.5" height="1.5" fill="#d80c08"/><rect x="143.3" y="252.8" width="1.6" height="1.6" fill="#d80c08"/><rect x="179.3" y="239.5" width="1.2" height="1.2" fill="#ffffff"/><rect x="170.6" y="214.0" width="0.9" height="0.9" fill="#ffffff"/><rect x="142.1" y="247.7" width="1.4" height="1.4" fill="#d80c08"/><rect x="177.8" y="240.7" width="1.4" height="1.4" fill="#d80c08"/><rect x="165.3" y="260.6" width="1.0" height="1.0" fill="#d80c08"/><rect x="142.1" y="218.1" width="1.2" height="1.2" fill="#d80c08"/><rect x="154.9" y="262.5" width="0.9" height="0.9" fill="#d80c08"/><rect x="172.8" y="257.6" width="1.5" height="1.5" fill="#ffffff"/></g>
<circle cx="151.0" cy="267.3" r="1.6" fill="#e3120b"/>
<circle cx="157.0" cy="263.5" r="1.3" fill="#e3120b"/>
<circle cx="154.0" cy="270.0" r="1.2" fill="#e3120b"/>
<circle cx="160.0" cy="266.0" r="1.0" fill="#e3120b"/>
<circle cx="149.0" cy="272.0" r="1.0" fill="#e3120b"/>
<circle cx="163.0" cy="262.0" r="0.9" fill="#e3120b"/>
<circle cx="146.5" cy="273.0" r="1.0" fill="#e3120b"/>
<circle cx="170.0" cy="259.0" r="0.8" fill="#e3120b"/>
<circle cx="115.0" cy="216.0" r="0.8" fill="#e3120b"/>
<circle cx="129.0" cy="216.0" r="0.7" fill="#e3120b"/>
</g>
<text transform="translate(149.55 307.91) scale(1.2428 1)" font-size="9.12" font-weight="bold" fill="#b82a34">cells</text>
<line x1="82.00" y1="49.00" x2="82.00" y2="156.00" stroke="#000" stroke-width="2.00"/>
<line x1="81.00" y1="155.00" x2="201.60" y2="155.00" stroke="#000" stroke-width="2.00"/>
<line x1="78.00" y1="49.50" x2="200.60" y2="49.50" stroke="#222" stroke-width="1.00"/>
<line x1="200.60" y1="49.50" x2="200.60" y2="155.00" stroke="#222" stroke-width="1.00"/>
<line x1="78.00" y1="49.50" x2="82.00" y2="49.50" stroke="#000" stroke-width="1.00"/>
<text x="75.30" y="51.80" font-size="7.30" text-anchor="end" font-weight="normal" fill="#000" stroke="#000" stroke-width="0.25">150 000</text>
<line x1="80.00" y1="54.77" x2="82.00" y2="54.77" stroke="#000" stroke-width="0.80"/>
<line x1="80.00" y1="60.05" x2="82.00" y2="60.05" stroke="#000" stroke-width="0.80"/>
<line x1="80.00" y1="65.33" x2="82.00" y2="65.33" stroke="#000" stroke-width="0.80"/>
<line x1="80.00" y1="70.60" x2="82.00" y2="70.60" stroke="#000" stroke-width="0.80"/>
<line x1="78.00" y1="75.88" x2="82.00" y2="75.88" stroke="#000" stroke-width="1.00"/>
<text x="75.30" y="77.58" font-size="7.30" text-anchor="end" font-weight="normal" fill="#000" stroke="#000" stroke-width="0.25">112 500</text>
<line x1="80.00" y1="81.15" x2="82.00" y2="81.15" stroke="#000" stroke-width="0.80"/>
<line x1="80.00" y1="86.42" x2="82.00" y2="86.42" stroke="#000" stroke-width="0.80"/>
<line x1="80.00" y1="91.70" x2="82.00" y2="91.70" stroke="#000" stroke-width="0.80"/>
<line x1="80.00" y1="96.97" x2="82.00" y2="96.97" stroke="#000" stroke-width="0.80"/>
<line x1="78.00" y1="102.25" x2="82.00" y2="102.25" stroke="#000" stroke-width="1.00"/>
<text x="75.30" y="103.95" font-size="7.30" text-anchor="end" font-weight="normal" fill="#000" stroke="#000" stroke-width="0.25">75000</text>
<line x1="80.00" y1="107.53" x2="82.00" y2="107.53" stroke="#000" stroke-width="0.80"/>
<line x1="80.00" y1="112.80" x2="82.00" y2="112.80" stroke="#000" stroke-width="0.80"/>
<line x1="80.00" y1="118.08" x2="82.00" y2="118.08" stroke="#000" stroke-width="0.80"/>
<line x1="80.00" y1="123.35" x2="82.00" y2="123.35" stroke="#000" stroke-width="0.80"/>
<line x1="78.00" y1="128.62" x2="82.00" y2="128.62" stroke="#000" stroke-width="1.00"/>
<text x="75.30" y="130.32" font-size="7.30" text-anchor="end" font-weight="normal" fill="#000" stroke="#000" stroke-width="0.25">37500</text>
<line x1="80.00" y1="133.90" x2="82.00" y2="133.90" stroke="#000" stroke-width="0.80"/>
<line x1="80.00" y1="139.18" x2="82.00" y2="139.18" stroke="#000" stroke-width="0.80"/>
<line x1="80.00" y1="144.45" x2="82.00" y2="144.45" stroke="#000" stroke-width="0.80"/>
<line x1="80.00" y1="149.72" x2="82.00" y2="149.72" stroke="#000" stroke-width="0.80"/>
<line x1="78.00" y1="155.00" x2="82.00" y2="155.00" stroke="#000" stroke-width="1.00"/>
<text x="75.30" y="156.70" font-size="7.30" text-anchor="end" font-weight="normal" fill="#000" stroke="#000" stroke-width="0.25">0</text>
<line x1="82.00" y1="155.00" x2="82.00" y2="159.00" stroke="#000" stroke-width="1.00"/>
<text x="82.00" y="167.00" font-size="7.30" text-anchor="middle" font-weight="normal" fill="#000" clip-path="url(#xclip)" stroke="#000" stroke-width="0.25">0</text>
<line x1="87.93" y1="155.00" x2="87.93" y2="157.00" stroke="#000" stroke-width="0.80"/>
<line x1="93.86" y1="155.00" x2="93.86" y2="157.00" stroke="#000" stroke-width="0.80"/>
<line x1="99.79" y1="155.00" x2="99.79" y2="157.00" stroke="#000" stroke-width="0.80"/>
<line x1="105.72" y1="155.00" x2="105.72" y2="157.00" stroke="#000" stroke-width="0.80"/>
<line x1="111.65" y1="155.00" x2="111.65" y2="159.00" stroke="#000" stroke-width="1.00"/>
<text x="111.65" y="167.00" font-size="7.30" text-anchor="middle" font-weight="normal" fill="#000" clip-path="url(#xclip)" stroke="#000" stroke-width="0.25">37 500</text>
<line x1="117.58" y1="155.00" x2="117.58" y2="157.00" stroke="#000" stroke-width="0.80"/>
<line x1="123.51" y1="155.00" x2="123.51" y2="157.00" stroke="#000" stroke-width="0.80"/>
<line x1="129.44" y1="155.00" x2="129.44" y2="157.00" stroke="#000" stroke-width="0.80"/>
<line x1="135.37" y1="155.00" x2="135.37" y2="157.00" stroke="#000" stroke-width="0.80"/>
<line x1="141.30" y1="155.00" x2="141.30" y2="159.00" stroke="#000" stroke-width="1.00"/>
<text x="141.30" y="167.00" font-size="7.30" text-anchor="middle" font-weight="normal" fill="#000" clip-path="url(#xclip)" stroke="#000" stroke-width="0.25">75 000</text>
<line x1="147.23" y1="155.00" x2="147.23" y2="157.00" stroke="#000" stroke-width="0.80"/>
<line x1="153.16" y1="155.00" x2="153.16" y2="157.00" stroke="#000" stroke-width="0.80"/>
<line x1="159.09" y1="155.00" x2="159.09" y2="157.00" stroke="#000" stroke-width="0.80"/>
<line x1="165.02" y1="155.00" x2="165.02" y2="157.00" stroke="#000" stroke-width="0.80"/>
<line x1="170.95" y1="155.00" x2="170.95" y2="159.00" stroke="#000" stroke-width="1.00"/>
<text x="170.95" y="167.00" font-size="7.30" text-anchor="middle" font-weight="normal" fill="#000" clip-path="url(#xclip)" stroke="#000" stroke-width="0.25">112 500</text>
<line x1="176.88" y1="155.00" x2="176.88" y2="157.00" stroke="#000" stroke-width="0.80"/>
<line x1="182.81" y1="155.00" x2="182.81" y2="157.00" stroke="#000" stroke-width="0.80"/>
<line x1="188.74" y1="155.00" x2="188.74" y2="157.00" stroke="#000" stroke-width="0.80"/>
<line x1="194.67" y1="155.00" x2="194.67" y2="157.00" stroke="#000" stroke-width="0.80"/>
<line x1="200.60" y1="155.00" x2="200.60" y2="159.00" stroke="#000" stroke-width="1.00"/>
<text x="200.60" y="167.00" font-size="7.30" text-anchor="middle" font-weight="normal" fill="#000" clip-path="url(#xclip)" stroke="#000" stroke-width="0.25">150 000</text>
<line x1="82.00" y1="215.10" x2="82.00" y2="323.80" stroke="#000" stroke-width="2.00"/>
<line x1="81.00" y1="322.80" x2="201.60" y2="322.80" stroke="#000" stroke-width="2.00"/>
<line x1="200.60" y1="215.60" x2="200.60" y2="322.80" stroke="#222" stroke-width="1.00"/>
<line x1="78.00" y1="215.60" x2="82.00" y2="215.60" stroke="#000" stroke-width="1.00"/>
<text x="75.30" y="217.90" font-size="7.30" text-anchor="end" font-weight="normal" fill="#000" stroke="#000" stroke-width="0.25">150 000</text>
<line x1="80.00" y1="220.96" x2="82.00" y2="220.96" stroke="#000" stroke-width="0.80"/>
<line x1="80.00" y1="226.32" x2="82.00" y2="226.32" stroke="#000" stroke-width="0.80"/>
<line x1="80.00" y1="231.68" x2="82.00" y2="231.68" stroke="#000" stroke-width="0.80"/>
<line x1="80.00" y1="237.04" x2="82.00" y2="237.04" stroke="#000" stroke-width="0.80"/>
<line x1="78.00" y1="242.40" x2="82.00" y2="242.40" stroke="#000" stroke-width="1.00"/>
<text x="75.30" y="244.10" font-size="7.30" text-anchor="end" font-weight="normal" fill="#000" stroke="#000" stroke-width="0.25">112 500</text>
<line x1="80.00" y1="247.76" x2="82.00" y2="247.76" stroke="#000" stroke-width="0.80"/>
<line x1="80.00" y1="253.12" x2="82.00" y2="253.12" stroke="#000" stroke-width="0.80"/>
<line x1="80.00" y1="258.48" x2="82.00" y2="258.48" stroke="#000" stroke-width="0.80"/>
<line x1="80.00" y1="263.84" x2="82.00" y2="263.84" stroke="#000" stroke-width="0.80"/>
<line x1="78.00" y1="269.20" x2="82.00" y2="269.20" stroke="#000" stroke-width="1.00"/>
<text x="75.30" y="270.90" font-size="7.30" text-anchor="end" font-weight="normal" fill="#000" stroke="#000" stroke-width="0.25">75000</text>
<line x1="80.00" y1="274.56" x2="82.00" y2="274.56" stroke="#000" stroke-width="0.80"/>
<line x1="80.00" y1="279.92" x2="82.00" y2="279.92" stroke="#000" stroke-width="0.80"/>
<line x1="80.00" y1="285.28" x2="82.00" y2="285.28" stroke="#000" stroke-width="0.80"/>
<line x1="80.00" y1="290.64" x2="82.00" y2="290.64" stroke="#000" stroke-width="0.80"/>
<line x1="78.00" y1="296.00" x2="82.00" y2="296.00" stroke="#000" stroke-width="1.00"/>
<text x="75.30" y="297.70" font-size="7.30" text-anchor="end" font-weight="normal" fill="#000" stroke="#000" stroke-width="0.25">37500</text>
<line x1="80.00" y1="301.36" x2="82.00" y2="301.36" stroke="#000" stroke-width="0.80"/>
<line x1="80.00" y1="306.72" x2="82.00" y2="306.72" stroke="#000" stroke-width="0.80"/>
<line x1="80.00" y1="312.08" x2="82.00" y2="312.08" stroke="#000" stroke-width="0.80"/>
<line x1="80.00" y1="317.44" x2="82.00" y2="317.44" stroke="#000" stroke-width="0.80"/>
<line x1="78.00" y1="322.80" x2="82.00" y2="322.80" stroke="#000" stroke-width="1.00"/>
<text x="75.30" y="324.50" font-size="7.30" text-anchor="end" font-weight="normal" fill="#000" stroke="#000" stroke-width="0.25">0</text>
<line x1="82.00" y1="322.80" x2="82.00" y2="326.80" stroke="#000" stroke-width="1.00"/>
<text x="82.00" y="334.80" font-size="7.30" text-anchor="middle" font-weight="normal" fill="#000" clip-path="url(#xclip)" stroke="#000" stroke-width="0.25">0</text>
<line x1="87.93" y1="322.80" x2="87.93" y2="324.80" stroke="#000" stroke-width="0.80"/>
<line x1="93.86" y1="322.80" x2="93.86" y2="324.80" stroke="#000" stroke-width="0.80"/>
<line x1="99.79" y1="322.80" x2="99.79" y2="324.80" stroke="#000" stroke-width="0.80"/>
<line x1="105.72" y1="322.80" x2="105.72" y2="324.80" stroke="#000" stroke-width="0.80"/>
<line x1="111.65" y1="322.80" x2="111.65" y2="326.80" stroke="#000" stroke-width="1.00"/>
<text x="111.65" y="334.80" font-size="7.30" text-anchor="middle" font-weight="normal" fill="#000" clip-path="url(#xclip)" stroke="#000" stroke-width="0.25">37 500</text>
<line x1="117.58" y1="322.80" x2="117.58" y2="324.80" stroke="#000" stroke-width="0.80"/>
<line x1="123.51" y1="322.80" x2="123.51" y2="324.80" stroke="#000" stroke-width="0.80"/>
<line x1="129.44" y1="322.80" x2="129.44" y2="324.80" stroke="#000" stroke-width="0.80"/>
<line x1="135.37" y1="322.80" x2="135.37" y2="324.80" stroke="#000" stroke-width="0.80"/>
<line x1="141.30" y1="322.80" x2="141.30" y2="326.80" stroke="#000" stroke-width="1.00"/>
<text x="141.30" y="334.80" font-size="7.30" text-anchor="middle" font-weight="normal" fill="#000" clip-path="url(#xclip)" stroke="#000" stroke-width="0.25">75 000</text>
<line x1="147.23" y1="322.80" x2="147.23" y2="324.80" stroke="#000" stroke-width="0.80"/>
<line x1="153.16" y1="322.80" x2="153.16" y2="324.80" stroke="#000" stroke-width="0.80"/>
<line x1="159.09" y1="322.80" x2="159.09" y2="324.80" stroke="#000" stroke-width="0.80"/>
<line x1="165.02" y1="322.80" x2="165.02" y2="324.80" stroke="#000" stroke-width="0.80"/>
<line x1="170.95" y1="322.80" x2="170.95" y2="326.80" stroke="#000" stroke-width="1.00"/>
<text x="170.95" y="334.80" font-size="7.30" text-anchor="middle" font-weight="normal" fill="#000" clip-path="url(#xclip)" stroke="#000" stroke-width="0.25">112 500</text>
<line x1="176.88" y1="322.80" x2="176.88" y2="324.80" stroke="#000" stroke-width="0.80"/>
<line x1="182.81" y1="322.80" x2="182.81" y2="324.80" stroke="#000" stroke-width="0.80"/>
<line x1="188.74" y1="322.80" x2="188.74" y2="324.80" stroke="#000" stroke-width="0.80"/>
<line x1="194.67" y1="322.80" x2="194.67" y2="324.80" stroke="#000" stroke-width="0.80"/>
<line x1="200.60" y1="322.80" x2="200.60" y2="326.80" stroke="#000" stroke-width="1.00"/>
<text x="200.60" y="334.80" font-size="7.30" text-anchor="middle" font-weight="normal" fill="#000" clip-path="url(#xclip)" stroke="#000" stroke-width="0.25">150 000</text>
<line x1="282.20" y1="36.40" x2="282.20" y2="152.30" stroke="#000" stroke-width="1.80"/>
<line x1="281.20" y1="151.30" x2="511.30" y2="151.30" stroke="#000" stroke-width="1.80"/>
<line x1="279.20" y1="36.90" x2="510.80" y2="36.90" stroke="#111" stroke-width="1.10"/>
<line x1="510.80" y1="36.90" x2="510.80" y2="151.30" stroke="#111" stroke-width="1.10"/>
<line x1="278.70" y1="151.30" x2="282.20" y2="151.30" stroke="#000" stroke-width="1.00"/>
<text x="275.90" y="154.10" font-size="9.80" text-anchor="end" font-weight="normal" fill="#1a1a1a">0</text>
<line x1="278.70" y1="122.46" x2="282.20" y2="122.46" stroke="#000" stroke-width="1.00"/>
<text x="275.90" y="125.26" font-size="9.80" text-anchor="end" font-weight="normal" fill="#1a1a1a">60</text>
<line x1="278.70" y1="94.10" x2="282.20" y2="94.10" stroke="#000" stroke-width="1.00"/>
<text x="275.90" y="96.90" font-size="9.80" text-anchor="end" font-weight="normal" fill="#1a1a1a">119</text>
<line x1="278.70" y1="65.26" x2="282.20" y2="65.26" stroke="#000" stroke-width="1.00"/>
<text x="275.90" y="68.06" font-size="9.80" text-anchor="end" font-weight="normal" fill="#1a1a1a">179</text>
<line x1="278.70" y1="36.90" x2="282.20" y2="36.90" stroke="#000" stroke-width="1.00"/>
<text x="275.90" y="39.70" font-size="9.80" text-anchor="end" font-weight="normal" fill="#1a1a1a">238</text>
<line x1="280.20" y1="36.90" x2="282.20" y2="36.90" stroke="#000" stroke-width="0.80"/>
<line x1="280.20" y1="44.11" x2="282.20" y2="44.11" stroke="#000" stroke-width="0.80"/>
<line x1="280.20" y1="51.32" x2="282.20" y2="51.32" stroke="#000" stroke-width="0.80"/>
<line x1="280.20" y1="58.53" x2="282.20" y2="58.53" stroke="#000" stroke-width="0.80"/>
<line x1="280.20" y1="65.74" x2="282.20" y2="65.74" stroke="#000" stroke-width="0.80"/>
<line x1="280.20" y1="72.95" x2="282.20" y2="72.95" stroke="#000" stroke-width="0.80"/>
<line x1="280.20" y1="80.16" x2="282.20" y2="80.16" stroke="#000" stroke-width="0.80"/>
<line x1="280.20" y1="87.37" x2="282.20" y2="87.37" stroke="#000" stroke-width="0.80"/>
<line x1="280.20" y1="94.58" x2="282.20" y2="94.58" stroke="#000" stroke-width="0.80"/>
<line x1="280.20" y1="101.79" x2="282.20" y2="101.79" stroke="#000" stroke-width="0.80"/>
<line x1="280.20" y1="109.00" x2="282.20" y2="109.00" stroke="#000" stroke-width="0.80"/>
<line x1="280.20" y1="116.21" x2="282.20" y2="116.21" stroke="#000" stroke-width="0.80"/>
<line x1="280.20" y1="123.42" x2="282.20" y2="123.42" stroke="#000" stroke-width="0.80"/>
<line x1="280.20" y1="130.63" x2="282.20" y2="130.63" stroke="#000" stroke-width="0.80"/>
<line x1="280.20" y1="137.84" x2="282.20" y2="137.84" stroke="#000" stroke-width="0.80"/>
<line x1="280.20" y1="145.05" x2="282.20" y2="145.05" stroke="#000" stroke-width="0.80"/>
<line x1="285.10" y1="151.30" x2="285.10" y2="154.80" stroke="#000" stroke-width="1.00"/>
<text x="283.80" y="170.20" font-size="9.30" text-anchor="middle" font-weight="normal" fill="#1a1a1a" letter-spacing="0.4">10</text>
<text x="292.20" y="163.80" font-size="5.80" text-anchor="middle" font-weight="normal" fill="#1a1a1a">1</text>
<line x1="300.54" y1="151.30" x2="300.54" y2="153.30" stroke="#000" stroke-width="0.70"/>
<line x1="309.58" y1="151.30" x2="309.58" y2="153.30" stroke="#000" stroke-width="0.70"/>
<line x1="315.99" y1="151.30" x2="315.99" y2="153.30" stroke="#000" stroke-width="0.70"/>
<line x1="320.96" y1="151.30" x2="320.96" y2="153.30" stroke="#000" stroke-width="0.70"/>
<line x1="325.02" y1="151.30" x2="325.02" y2="153.30" stroke="#000" stroke-width="0.70"/>
<line x1="328.45" y1="151.30" x2="328.45" y2="153.30" stroke="#000" stroke-width="0.70"/>
<line x1="331.43" y1="151.30" x2="331.43" y2="153.30" stroke="#000" stroke-width="0.70"/>
<line x1="334.05" y1="151.30" x2="334.05" y2="153.30" stroke="#000" stroke-width="0.70"/>
<line x1="336.40" y1="151.30" x2="336.40" y2="154.80" stroke="#000" stroke-width="1.00"/>
<text x="335.10" y="170.20" font-size="9.30" text-anchor="middle" font-weight="normal" fill="#1a1a1a" letter-spacing="0.4">10</text>
<text x="343.50" y="163.80" font-size="5.80" text-anchor="middle" font-weight="normal" fill="#1a1a1a">2</text>
<line x1="352.02" y1="151.30" x2="352.02" y2="153.30" stroke="#000" stroke-width="0.70"/>
<line x1="361.16" y1="151.30" x2="361.16" y2="153.30" stroke="#000" stroke-width="0.70"/>
<line x1="367.65" y1="151.30" x2="367.65" y2="153.30" stroke="#000" stroke-width="0.70"/>
<line x1="372.68" y1="151.30" x2="372.68" y2="153.30" stroke="#000" stroke-width="0.70"/>
<line x1="376.79" y1="151.30" x2="376.79" y2="153.30" stroke="#000" stroke-width="0.70"/>
<line x1="380.26" y1="151.30" x2="380.26" y2="153.30" stroke="#000" stroke-width="0.70"/>
<line x1="383.27" y1="151.30" x2="383.27" y2="153.30" stroke="#000" stroke-width="0.70"/>
<line x1="385.93" y1="151.30" x2="385.93" y2="153.30" stroke="#000" stroke-width="0.70"/>
<line x1="388.30" y1="151.30" x2="388.30" y2="154.80" stroke="#000" stroke-width="1.00"/>
<text x="387.00" y="170.20" font-size="9.30" text-anchor="middle" font-weight="normal" fill="#1a1a1a" letter-spacing="0.4">10</text>
<text x="395.40" y="163.80" font-size="5.80" text-anchor="middle" font-weight="normal" fill="#1a1a1a">3</text>
<line x1="403.05" y1="151.30" x2="403.05" y2="153.30" stroke="#000" stroke-width="0.70"/>
<line x1="411.68" y1="151.30" x2="411.68" y2="153.30" stroke="#000" stroke-width="0.70"/>
<line x1="417.80" y1="151.30" x2="417.80" y2="153.30" stroke="#000" stroke-width="0.70"/>
<line x1="422.55" y1="151.30" x2="422.55" y2="153.30" stroke="#000" stroke-width="0.70"/>
<line x1="426.43" y1="151.30" x2="426.43" y2="153.30" stroke="#000" stroke-width="0.70"/>
<line x1="429.71" y1="151.30" x2="429.71" y2="153.30" stroke="#000" stroke-width="0.70"/>
<line x1="432.55" y1="151.30" x2="432.55" y2="153.30" stroke="#000" stroke-width="0.70"/>
<line x1="435.06" y1="151.30" x2="435.06" y2="153.30" stroke="#000" stroke-width="0.70"/>
<line x1="437.30" y1="151.30" x2="437.30" y2="154.80" stroke="#000" stroke-width="1.00"/>
<text x="436.00" y="170.20" font-size="9.30" text-anchor="middle" font-weight="normal" fill="#1a1a1a" letter-spacing="0.4">10</text>
<text x="444.40" y="163.80" font-size="5.80" text-anchor="middle" font-weight="normal" fill="#1a1a1a">4</text>
<line x1="452.77" y1="151.30" x2="452.77" y2="153.30" stroke="#000" stroke-width="0.70"/>
<line x1="461.82" y1="151.30" x2="461.82" y2="153.30" stroke="#000" stroke-width="0.70"/>
<line x1="468.25" y1="151.30" x2="468.25" y2="153.30" stroke="#000" stroke-width="0.70"/>
<line x1="473.23" y1="151.30" x2="473.23" y2="153.30" stroke="#000" stroke-width="0.70"/>
<line x1="477.30" y1="151.30" x2="477.30" y2="153.30" stroke="#000" stroke-width="0.70"/>
<line x1="480.74" y1="151.30" x2="480.74" y2="153.30" stroke="#000" stroke-width="0.70"/>
<line x1="483.72" y1="151.30" x2="483.72" y2="153.30" stroke="#000" stroke-width="0.70"/>
<line x1="486.35" y1="151.30" x2="486.35" y2="153.30" stroke="#000" stroke-width="0.70"/>
<line x1="488.70" y1="151.30" x2="488.70" y2="154.80" stroke="#000" stroke-width="1.00"/>
<text x="487.40" y="170.20" font-size="9.30" text-anchor="middle" font-weight="normal" fill="#1a1a1a" letter-spacing="0.4">10</text>
<text x="495.80" y="163.80" font-size="5.80" text-anchor="middle" font-weight="normal" fill="#1a1a1a">5</text>
<line x1="504.05" y1="151.30" x2="504.05" y2="153.30" stroke="#000" stroke-width="0.70"/>
<path d="M283.0 151.0H283.5V149.8H284.0V151.0H284.5V150.7H285.0V150.8H285.5V150.9H286.0V150.1H286.5V150.9H287.0V150.6H287.5V151.0H288.0V151.0H288.5V150.8H289.0V150.8H289.5V150.7H290.0V150.5H290.5V150.8H291.0V151.0H291.5V150.8H292.0V151.0H292.5V150.9H293.0V151.0H293.5V151.0H294.0V151.0H294.5V150.7H295.0V150.9H295.5V151.0H296.0V151.0H296.5V150.8H297.0V150.8H297.5V151.0H298.0V150.5H298.5V150.8H299.0V151.0H299.5V151.0H300.0V151.0H300.5V151.0H301.0V149.6H301.5V151.0H302.0V150.5H302.5V150.1H303.0V151.0H303.5V151.0H304.0V150.7H304.5V150.4H305.0V150.9H305.5V150.9H306.0V151.0H306.5V151.0H307.0V151.0H307.5V151.0H308.0V150.8H308.5V150.4H309.0V151.0H309.5V151.0H310.0V150.8H310.5V150.5H311.0V151.0H311.5V149.7H312.0V151.0H312.5V151.0H313.0V150.1H313.5V150.9H314.0V150.4H314.5V151.0H315.0V149.9H315.5V150.4H316.0V151.0H316.5V151.0H317.0V149.8H317.5V150.6H318.0V151.0H318.5V150.6H319.0V151.0H319.5V150.3H320.0V151.0H320.5V150.3H321.0V151.0H321.5V150.8H322.0V150.7H322.5V150.0H323.0V151.0H323.5V151.0H324.0V151.0H324.5V151.0H325.0V151.0H325.5V150.5H326.0V150.4H326.5V150.4H327.0V151.0H327.5V150.1H328.0V150.5H328.5V150.6H329.0V150.9H329.5V151.0H330.0V150.2H330.5V149.9H331.0V150.8H331.5V151.0H332.0V151.0H332.5V150.9H333.0V150.6H333.5V150.9H334.0V150.6H334.5V151.0H335.0V150.3H335.5V150.8H336.0V150.7H336.5V151.0H337.0V150.8H337.5V151.0H338.0V151.0H338.5V151.0H339.0V149.6H339.5V150.5H340.0V150.3H340.5V150.9H341.0V149.4H341.5V151.0H342.0V151.0H342.5V149.9H343.0V150.1H343.5V150.2H344.0V150.6H344.5V150.9H345.0V151.0H345.5V150.5H346.0V151.0H346.5V150.6H347.0V151.0H347.5V151.0H348.0V151.0H348.5V149.9H349.0V150.4H349.5V150.1H350.0V151.0H350.5V150.9H351.0V150.3H351.5V150.2H352.0V150.8H352.5V150.1H353.0V150.0H353.5V150.7H354.0V151.0H354.5V150.3H355.0V150.1H355.5V149.8H356.0V149.7H356.5V150.7H357.0V150.9H357.5V150.4H358.0V150.6H358.5V150.5H359.0V150.5H359.5V149.5H360.0V150.1H360.5V150.4H361.0V149.9H361.5V150.1H362.0V149.9H362.5V150.1H363.0V150.8H363.5V150.1H364.0V150.2H364.5V150.8H365.0V150.7H365.5V151.0H366.0V149.1H366.5V150.8H367.0V150.0H367.5V150.3H368.0V150.7H368.5V150.9H369.0V150.9H369.5V150.3H370.0V151.0H370.5V150.1H371.0V150.1H371.5V150.7H372.0V149.9H372.5V151.0H373.0V150.8H373.5V151.0H374.0V150.1H374.5V149.9H375.0V150.2H375.5V150.5H376.0V149.7H376.5V150.3H377.0V150.0H377.5V151.0H378.0V149.6H378.5V150.7H379.0V149.6H379.5V149.4H380.0V149.5H380.5V149.2H381.0V150.0H381.5V150.6H382.0V150.0H382.5V150.3H383.0V150.9H383.5V150.0H384.0V150.0H384.5V149.7H385.0V148.8H385.5V150.3H386.0V148.7H386.5V150.2H387.0V149.8H387.5V150.5H388.0V149.7H388.5V149.2H389.0V149.9H389.5V149.3H390.0V149.6H390.5V149.7H391.0V149.6H391.5V149.5H392.0V149.1H392.5V149.5H393.0V148.2H393.5V149.5H394.0V148.8H394.5V150.3H395.0V150.4H395.5V148.2H396.0V149.6H396.5V149.4H397.0V148.8H397.5V149.8H398.0V149.1H398.5V148.2H399.0V149.2H399.5V149.3H400.0V149.5H400.5V148.5H401.0V149.7H401.5V149.8H402.0V148.4H402.5V148.7H403.0V149.0H403.5V148.6H404.0V150.3H404.5V149.1H405.0V148.2H405.5V148.3H406.0V148.8H406.5V150.5H407.0V148.6H407.5V148.7H408.0V149.0H408.5V148.5H409.0V150.3H409.5V148.0H410.0V149.0H410.5V148.4H411.0V148.7H411.5V147.2H412.0V149.4H412.5V147.8H413.0V147.9H413.5V147.0H414.0V147.0H414.5V148.0H415.0V148.3H415.5V148.0H416.0V148.3H416.5V147.8H417.0V147.1H417.5V147.7H418.0V147.4H418.5V146.7H419.0V147.3H419.5V147.8H420.0V146.7H420.5V146.1H421.0V146.9H421.5V147.8H422.0V145.6H422.5V145.5H423.0V145.3H423.5V146.4H424.0V143.2H424.5V145.2H425.0V145.9H425.5V143.6H426.0V145.8H426.5V144.6H427.0V143.3H427.5V143.9H428.0V141.7H428.5V142.4H429.0V144.7H429.5V141.2H430.0V144.0H430.5V141.4H431.0V142.3H431.5V140.8H432.0V137.6H432.5V139.2H433.0V139.8H433.5V137.7H434.0V136.8H434.5V138.4H435.0V136.3H435.5V134.2H436.0V134.9H436.5V136.4H437.0V133.9H437.5V135.3H438.0V135.4H438.5V132.1H439.0V129.3H439.5V128.0H440.0V129.0H440.5V129.5H441.0V126.9H441.5V125.9H442.0V122.7H442.5V122.5H443.0V119.5H443.5V117.9H444.0V114.0H444.5V111.5H445.0V111.7H445.5V108.5H446.0V105.9H446.5V106.0H447.0V100.9H447.5V104.5H448.0V96.5H448.5V89.3H449.0V89.4H449.5V84.9H450.0V78.4H450.5V79.4H451.0V70.4H451.5V60.0H452.0V67.2H452.5V59.2H453.0V63.1H453.5V54.7H454.0V51.0H454.5V57.4H455.0V47.3H455.5V49.2H456.0V52.3H456.5V47.4H457.0V46.2H457.5V46.0H458.0V46.1H458.5V44.1H459.0V45.4H459.5V46.0H460.0V50.8H460.5V44.5H461.0V43.7H461.5V48.3H462.0V45.0H462.5V47.4H463.0V48.6H463.5V53.6H464.0V49.6H464.5V53.1H465.0V47.4H465.5V54.2H466.0V63.2H466.5V58.3H467.0V60.5H467.5V61.2H468.0V68.6H468.5V69.7H469.0V68.1H469.5V75.5H470.0V76.5H470.5V80.1H471.0V80.0H471.5V90.2H472.0V90.8H472.5V93.5H473.0V96.6H473.5V101.3H474.0V106.8H474.5V107.0H475.0V112.5H475.5V114.1H476.0V118.3H476.5V119.9H477.0V119.8H477.5V117.8H478.0V123.1H478.5V125.3H479.0V125.5H479.5V127.5H480.0V127.1H480.5V128.6H481.0V129.0H481.5V133.9H482.0V133.4H482.5V133.8H483.0V133.5H483.5V135.8H484.0V138.6H484.5V137.9H485.0V136.9H485.5V140.4H486.0V140.9H486.5V141.0H487.0V141.3H487.5V142.4H488.0V142.2H488.5V143.1H489.0V142.0H489.5V145.1H490.0V144.3H490.5V146.8H491.0V143.2H491.5V146.1H492.0V146.5H492.5V145.4H493.0V146.4H493.5V146.9H494.0V146.9H494.5V146.1H495.0V146.6H495.5V147.9H496.0V148.3H496.5V147.4H497.0V147.6H497.5V147.9H498.0V148.8H498.5V147.3H499.0V147.3H499.5V148.6H500.0V147.9H500.5V148.5H501.0V149.2H501.5V149.6H502.0V148.6H502.5V149.9H503.0V148.3H503.5V149.9H504.0V148.6H504.5V148.9H505.0V150.3H505.5V149.7H506.0V149.6H506.5V149.9H507.0V150.5H507.5V150.3H508.0V150.4H508.5V151.0H509.0V150.2H509.5V150.3H510.0V150.3" fill="none" stroke="#000" stroke-width="1.6"/>
<line x1="456.80" y1="37.50" x2="456.80" y2="44.00" stroke="#000" stroke-width="1.00"/>
<line x1="282.20" y1="96.70" x2="429.20" y2="96.70" stroke="#7e0c10" stroke-width="2.20"/>
<line x1="429.20" y1="89.60" x2="429.20" y2="104.70" stroke="#7e0c10" stroke-width="2.00"/>
<line x1="429.20" y1="116.30" x2="511.00" y2="116.30" stroke="#7e0c10" stroke-width="1.30"/>
<line x1="429.20" y1="110.80" x2="429.20" y2="122.90" stroke="#7e0c10" stroke-width="2.00"/>
<line x1="510.80" y1="109.80" x2="510.80" y2="122.90" stroke="#7e0c10" stroke-width="2.00"/>
<line x1="510.30" y1="116.00" x2="510.30" y2="151.30" stroke="#000" stroke-width="1.70"/>
<text transform="translate(349.70 86.36) scale(0.8315 1)" font-size="14.23" font-weight="bold" fill="#7c1c26">3%</text>
<text transform="translate(464.57 100.66) scale(0.8798 1)" font-size="13.94" font-weight="bold" fill="#7c1c26">97%</text>
<line x1="278.20" y1="198.00" x2="278.20" y2="307.50" stroke="#000" stroke-width="1.80"/>
<line x1="277.20" y1="306.50" x2="511.10" y2="306.50" stroke="#000" stroke-width="1.80"/>
<line x1="275.20" y1="198.50" x2="510.60" y2="198.50" stroke="#111" stroke-width="1.10"/>
<line x1="510.60" y1="198.50" x2="510.60" y2="306.50" stroke="#111" stroke-width="1.10"/>
<line x1="274.70" y1="306.50" x2="278.20" y2="306.50" stroke="#000" stroke-width="1.00"/>
<text x="271.90" y="309.30" font-size="9.80" text-anchor="end" font-weight="normal" fill="#1a1a1a">0</text>
<line x1="274.70" y1="279.19" x2="278.20" y2="279.19" stroke="#000" stroke-width="1.00"/>
<text x="271.90" y="281.99" font-size="9.80" text-anchor="end" font-weight="normal" fill="#1a1a1a">44</text>
<line x1="274.70" y1="252.50" x2="278.20" y2="252.50" stroke="#000" stroke-width="1.00"/>
<text x="271.90" y="255.30" font-size="9.80" text-anchor="end" font-weight="normal" fill="#1a1a1a">87</text>
<line x1="274.70" y1="225.19" x2="278.20" y2="225.19" stroke="#000" stroke-width="1.00"/>
<text x="271.90" y="227.99" font-size="9.80" text-anchor="end" font-weight="normal" fill="#1a1a1a">131</text>
<line x1="274.70" y1="198.50" x2="278.20" y2="198.50" stroke="#000" stroke-width="1.00"/>
<text x="271.90" y="201.30" font-size="9.80" text-anchor="end" font-weight="normal" fill="#1a1a1a">174</text>
<line x1="276.20" y1="198.50" x2="278.20" y2="198.50" stroke="#000" stroke-width="0.80"/>
<line x1="276.20" y1="205.33" x2="278.20" y2="205.33" stroke="#000" stroke-width="0.80"/>
<line x1="276.20" y1="212.16" x2="278.20" y2="212.16" stroke="#000" stroke-width="0.80"/>
<line x1="276.20" y1="218.98" x2="278.20" y2="218.98" stroke="#000" stroke-width="0.80"/>
<line x1="276.20" y1="225.81" x2="278.20" y2="225.81" stroke="#000" stroke-width="0.80"/>
<line x1="276.20" y1="232.64" x2="278.20" y2="232.64" stroke="#000" stroke-width="0.80"/>
<line x1="276.20" y1="239.47" x2="278.20" y2="239.47" stroke="#000" stroke-width="0.80"/>
<line x1="276.20" y1="246.29" x2="278.20" y2="246.29" stroke="#000" stroke-width="0.80"/>
<line x1="276.20" y1="253.12" x2="278.20" y2="253.12" stroke="#000" stroke-width="0.80"/>
<line x1="276.20" y1="259.95" x2="278.20" y2="259.95" stroke="#000" stroke-width="0.80"/>
<line x1="276.20" y1="266.78" x2="278.20" y2="266.78" stroke="#000" stroke-width="0.80"/>
<line x1="276.20" y1="273.60" x2="278.20" y2="273.60" stroke="#000" stroke-width="0.80"/>
<line x1="276.20" y1="280.43" x2="278.20" y2="280.43" stroke="#000" stroke-width="0.80"/>
<line x1="276.20" y1="287.26" x2="278.20" y2="287.26" stroke="#000" stroke-width="0.80"/>
<line x1="276.20" y1="294.09" x2="278.20" y2="294.09" stroke="#000" stroke-width="0.80"/>
<line x1="276.20" y1="300.91" x2="278.20" y2="300.91" stroke="#000" stroke-width="0.80"/>
<line x1="304.50" y1="306.50" x2="304.50" y2="310.00" stroke="#000" stroke-width="1.00"/>
<text x="301.50" y="324.20" font-size="9.30" text-anchor="middle" font-weight="normal" fill="#1a1a1a" letter-spacing="0.4">-10</text>
<text x="311.30" y="318.60" font-size="5.80" text-anchor="middle" font-weight="normal" fill="#1a1a1a">2</text>
<line x1="327.30" y1="306.50" x2="327.30" y2="310.00" stroke="#000" stroke-width="1.00"/>
<text x="326.00" y="324.20" font-size="9.30" text-anchor="middle" font-weight="normal" fill="#1a1a1a" letter-spacing="0.4">10</text>
<text x="333.40" y="318.60" font-size="5.80" text-anchor="middle" font-weight="normal" fill="#1a1a1a">2</text>
<line x1="380.10" y1="306.50" x2="380.10" y2="310.00" stroke="#000" stroke-width="1.00"/>
<text x="378.80" y="324.20" font-size="9.30" text-anchor="middle" font-weight="normal" fill="#1a1a1a" letter-spacing="0.4">10</text>
<text x="386.20" y="318.60" font-size="5.80" text-anchor="middle" font-weight="normal" fill="#1a1a1a">3</text>
<line x1="435.50" y1="306.50" x2="435.50" y2="310.00" stroke="#000" stroke-width="1.00"/>
<text x="434.20" y="324.20" font-size="9.30" text-anchor="middle" font-weight="normal" fill="#1a1a1a" letter-spacing="0.4">10</text>
<text x="441.80" y="318.60" font-size="5.80" text-anchor="middle" font-weight="normal" fill="#1a1a1a">3</text>
<line x1="487.50" y1="306.50" x2="487.50" y2="310.00" stroke="#000" stroke-width="1.00"/>
<text x="486.20" y="324.20" font-size="9.30" text-anchor="middle" font-weight="normal" fill="#1a1a1a" letter-spacing="0.4">10</text>
<text x="494.80" y="318.60" font-size="5.80" text-anchor="middle" font-weight="normal" fill="#1a1a1a">4</text>
<line x1="280.00" y1="306.50" x2="280.00" y2="308.30" stroke="#000" stroke-width="0.60"/>
<line x1="283.20" y1="306.50" x2="283.20" y2="308.30" stroke="#000" stroke-width="0.60"/>
<line x1="286.40" y1="306.50" x2="286.40" y2="308.30" stroke="#000" stroke-width="0.60"/>
<line x1="289.60" y1="306.50" x2="289.60" y2="308.30" stroke="#000" stroke-width="0.60"/>
<line x1="292.80" y1="306.50" x2="292.80" y2="308.30" stroke="#000" stroke-width="0.60"/>
<line x1="296.00" y1="306.50" x2="296.00" y2="308.30" stroke="#000" stroke-width="0.60"/>
<line x1="299.20" y1="306.50" x2="299.20" y2="308.30" stroke="#000" stroke-width="0.60"/>
<line x1="302.40" y1="306.50" x2="302.40" y2="308.30" stroke="#000" stroke-width="0.60"/>
<line x1="305.60" y1="306.50" x2="305.60" y2="308.30" stroke="#000" stroke-width="0.60"/>
<line x1="308.80" y1="306.50" x2="308.80" y2="308.30" stroke="#000" stroke-width="0.60"/>
<line x1="312.00" y1="306.50" x2="312.00" y2="308.30" stroke="#000" stroke-width="0.60"/>
<line x1="315.20" y1="306.50" x2="315.20" y2="308.30" stroke="#000" stroke-width="0.60"/>
<line x1="318.40" y1="306.50" x2="318.40" y2="308.30" stroke="#000" stroke-width="0.60"/>
<line x1="321.60" y1="306.50" x2="321.60" y2="308.30" stroke="#000" stroke-width="0.60"/>
<line x1="324.80" y1="306.50" x2="324.80" y2="308.30" stroke="#000" stroke-width="0.60"/>
<line x1="328.00" y1="306.50" x2="328.00" y2="308.30" stroke="#000" stroke-width="0.60"/>
<line x1="331.20" y1="306.50" x2="331.20" y2="308.30" stroke="#000" stroke-width="0.60"/>
<line x1="334.40" y1="306.50" x2="334.40" y2="308.30" stroke="#000" stroke-width="0.60"/>
<line x1="337.60" y1="306.50" x2="337.60" y2="308.30" stroke="#000" stroke-width="0.60"/>
<line x1="340.80" y1="306.50" x2="340.80" y2="308.30" stroke="#000" stroke-width="0.60"/>
<line x1="344.00" y1="306.50" x2="344.00" y2="308.30" stroke="#000" stroke-width="0.60"/>
<line x1="347.20" y1="306.50" x2="347.20" y2="308.30" stroke="#000" stroke-width="0.60"/>
<line x1="350.40" y1="306.50" x2="350.40" y2="308.30" stroke="#000" stroke-width="0.60"/>
<line x1="353.60" y1="306.50" x2="353.60" y2="308.30" stroke="#000" stroke-width="0.60"/>
<line x1="356.80" y1="306.50" x2="356.80" y2="308.30" stroke="#000" stroke-width="0.60"/>
<line x1="360.00" y1="306.50" x2="360.00" y2="308.30" stroke="#000" stroke-width="0.60"/>
<line x1="363.20" y1="306.50" x2="363.20" y2="308.30" stroke="#000" stroke-width="0.60"/>
<line x1="366.40" y1="306.50" x2="366.40" y2="308.30" stroke="#000" stroke-width="0.60"/>
<line x1="369.60" y1="306.50" x2="369.60" y2="308.30" stroke="#000" stroke-width="0.60"/>
<line x1="372.80" y1="306.50" x2="372.80" y2="308.30" stroke="#000" stroke-width="0.60"/>
<line x1="376.00" y1="306.50" x2="376.00" y2="308.30" stroke="#000" stroke-width="0.60"/>
<line x1="379.20" y1="306.50" x2="379.20" y2="308.30" stroke="#000" stroke-width="0.60"/>
<line x1="382.40" y1="306.50" x2="382.40" y2="308.30" stroke="#000" stroke-width="0.60"/>
<line x1="385.60" y1="306.50" x2="385.60" y2="308.30" stroke="#000" stroke-width="0.60"/>
<line x1="388.80" y1="306.50" x2="388.80" y2="308.30" stroke="#000" stroke-width="0.60"/>
<line x1="392.00" y1="306.50" x2="392.00" y2="308.30" stroke="#000" stroke-width="0.60"/>
<line x1="395.20" y1="306.50" x2="395.20" y2="308.30" stroke="#000" stroke-width="0.60"/>
<line x1="398.40" y1="306.50" x2="398.40" y2="308.30" stroke="#000" stroke-width="0.60"/>
<line x1="401.60" y1="306.50" x2="401.60" y2="308.30" stroke="#000" stroke-width="0.60"/>
<line x1="404.80" y1="306.50" x2="404.80" y2="308.30" stroke="#000" stroke-width="0.60"/>
<line x1="408.00" y1="306.50" x2="408.00" y2="308.30" stroke="#000" stroke-width="0.60"/>
<line x1="411.20" y1="306.50" x2="411.20" y2="308.30" stroke="#000" stroke-width="0.60"/>
<line x1="414.40" y1="306.50" x2="414.40" y2="308.30" stroke="#000" stroke-width="0.60"/>
<line x1="417.60" y1="306.50" x2="417.60" y2="308.30" stroke="#000" stroke-width="0.60"/>
<line x1="420.80" y1="306.50" x2="420.80" y2="308.30" stroke="#000" stroke-width="0.60"/>
<line x1="424.00" y1="306.50" x2="424.00" y2="308.30" stroke="#000" stroke-width="0.60"/>
<line x1="427.20" y1="306.50" x2="427.20" y2="308.30" stroke="#000" stroke-width="0.60"/>
<line x1="430.40" y1="306.50" x2="430.40" y2="308.30" stroke="#000" stroke-width="0.60"/>
<line x1="433.60" y1="306.50" x2="433.60" y2="308.30" stroke="#000" stroke-width="0.60"/>
<line x1="436.80" y1="306.50" x2="436.80" y2="308.30" stroke="#000" stroke-width="0.60"/>
<line x1="440.00" y1="306.50" x2="440.00" y2="308.30" stroke="#000" stroke-width="0.60"/>
<line x1="443.20" y1="306.50" x2="443.20" y2="308.30" stroke="#000" stroke-width="0.60"/>
<line x1="446.40" y1="306.50" x2="446.40" y2="308.30" stroke="#000" stroke-width="0.60"/>
<line x1="449.60" y1="306.50" x2="449.60" y2="308.30" stroke="#000" stroke-width="0.60"/>
<line x1="452.80" y1="306.50" x2="452.80" y2="308.30" stroke="#000" stroke-width="0.60"/>
<line x1="456.00" y1="306.50" x2="456.00" y2="308.30" stroke="#000" stroke-width="0.60"/>
<line x1="459.20" y1="306.50" x2="459.20" y2="308.30" stroke="#000" stroke-width="0.60"/>
<line x1="462.40" y1="306.50" x2="462.40" y2="308.30" stroke="#000" stroke-width="0.60"/>
<line x1="465.60" y1="306.50" x2="465.60" y2="308.30" stroke="#000" stroke-width="0.60"/>
<line x1="468.80" y1="306.50" x2="468.80" y2="308.30" stroke="#000" stroke-width="0.60"/>
<line x1="472.00" y1="306.50" x2="472.00" y2="308.30" stroke="#000" stroke-width="0.60"/>
<line x1="475.20" y1="306.50" x2="475.20" y2="308.30" stroke="#000" stroke-width="0.60"/>
<line x1="478.40" y1="306.50" x2="478.40" y2="308.30" stroke="#000" stroke-width="0.60"/>
<line x1="481.60" y1="306.50" x2="481.60" y2="308.30" stroke="#000" stroke-width="0.60"/>
<line x1="484.80" y1="306.50" x2="484.80" y2="308.30" stroke="#000" stroke-width="0.60"/>
<line x1="488.00" y1="306.50" x2="488.00" y2="308.30" stroke="#000" stroke-width="0.60"/>
<line x1="491.20" y1="306.50" x2="491.20" y2="308.30" stroke="#000" stroke-width="0.60"/>
<line x1="494.40" y1="306.50" x2="494.40" y2="308.30" stroke="#000" stroke-width="0.60"/>
<line x1="497.60" y1="306.50" x2="497.60" y2="308.30" stroke="#000" stroke-width="0.60"/>
<line x1="500.80" y1="306.50" x2="500.80" y2="308.30" stroke="#000" stroke-width="0.60"/>
<line x1="504.00" y1="306.50" x2="504.00" y2="308.30" stroke="#000" stroke-width="0.60"/>
<line x1="507.20" y1="306.50" x2="507.20" y2="308.30" stroke="#000" stroke-width="0.60"/>
<path d="M280.0 305.4H280.5V305.1H281.0V305.8H281.5V306.2H282.0V306.2H282.5V306.0H283.0V305.6H283.5V305.4H284.0V306.2H284.5V306.2H285.0V306.1H285.5V305.1H286.0V305.3H286.5V306.2H287.0V306.1H287.5V304.7H288.0V305.9H288.5V305.1H289.0V305.5H289.5V305.6H290.0V305.4H290.5V306.2H291.0V305.9H291.5V305.5H292.0V306.2H292.5V306.2H293.0V304.7H293.5V305.7H294.0V305.2H294.5V305.7H295.0V304.9H295.5V305.9H296.0V305.8H296.5V305.6H297.0V305.1H297.5V305.5H298.0V305.0H298.5V304.8H299.0V306.0H299.5V305.0H300.0V306.2H300.5V306.2H301.0V304.3H301.5V306.0H302.0V305.0H302.5V305.8H303.0V305.8H303.5V304.3H304.0V305.6H304.5V305.6H305.0V306.2H305.5V304.9H306.0V306.2H306.5V304.9H307.0V305.5H307.5V305.1H308.0V306.2H308.5V306.2H309.0V306.2H309.5V306.2H310.0V306.2H310.5V306.2H311.0V305.3H311.5V305.7H312.0V306.2H312.5V305.4H313.0V305.9H313.5V305.7H314.0V306.2H314.5V305.4H315.0V305.6H315.5V305.9H316.0V305.8H316.5V305.0H317.0V306.2H317.5V304.6H318.0V304.7H318.5V304.6H319.0V306.2H319.5V305.4H320.0V304.9H320.5V304.7H321.0V306.0H321.5V304.8H322.0V304.6H322.5V306.1H323.0V304.7H323.5V305.4H324.0V305.6H324.5V305.2H325.0V305.6H325.5V306.2H326.0V305.1H326.5V304.4H327.0V303.9H327.5V305.2H328.0V305.0H328.5V305.5H329.0V304.8H329.5V304.8H330.0V304.5H330.5V304.6H331.0V305.2H331.5V304.7H332.0V305.1H332.5V306.2H333.0V305.4H333.5V303.3H334.0V306.2H334.5V305.1H335.0V303.8H335.5V305.6H336.0V304.7H336.5V304.0H337.0V303.9H337.5V303.5H338.0V304.5H338.5V305.5H339.0V304.0H339.5V304.8H340.0V306.2H340.5V302.9H341.0V304.4H341.5V303.7H342.0V302.8H342.5V302.8H343.0V303.8H343.5V304.3H344.0V303.1H344.5V303.7H345.0V304.4H345.5V303.8H346.0V304.4H346.5V303.9H347.0V303.8H347.5V305.4H348.0V303.8H348.5V303.2H349.0V303.8H349.5V301.7H350.0V302.3H350.5V303.7H351.0V303.4H351.5V304.6H352.0V302.5H352.5V300.5H353.0V304.9H353.5V303.7H354.0V300.7H354.5V304.0H355.0V302.1H355.5V299.4H356.0V301.3H356.5V301.1H357.0V303.9H357.5V300.4H358.0V301.0H358.5V300.8H359.0V300.5H359.5V299.5H360.0V301.0H360.5V302.2H361.0V301.4H361.5V298.8H362.0V298.3H362.5V300.1H363.0V298.6H363.5V298.6H364.0V296.7H364.5V302.5H365.0V300.6H365.5V297.3H366.0V300.3H366.5V300.9H367.0V294.3H367.5V297.3H368.0V297.3H368.5V298.9H369.0V297.2H369.5V296.7H370.0V296.7H370.5V300.0H371.0V300.3H371.5V295.0H372.0V293.9H372.5V300.6H373.0V293.2H373.5V293.7H374.0V294.6H374.5V295.1H375.0V295.9H375.5V294.2H376.0V291.2H376.5V293.6H377.0V292.7H377.5V295.8H378.0V291.2H378.5V287.8H379.0V288.3H379.5V293.8H380.0V289.1H380.5V285.4H381.0V288.7H381.5V289.9H382.0V292.5H382.5V287.2H383.0V291.0H383.5V291.2H384.0V287.5H384.5V288.6H385.0V293.0H385.5V292.8H386.0V290.6H386.5V288.1H387.0V288.1H387.5V282.8H388.0V281.9H388.5V279.5H389.0V281.7H389.5V281.2H390.0V288.8H390.5V280.3H391.0V284.2H391.5V284.1H392.0V279.6H392.5V283.2H393.0V273.4H393.5V279.6H394.0V282.1H394.5V274.3H395.0V279.0H395.5V286.2H396.0V284.0H396.5V283.1H397.0V286.1H397.5V286.4H398.0V290.1H398.5V290.1H399.0V289.0H399.5V288.8H400.0V290.9H400.5V294.6H401.0V293.1H401.5V294.4H402.0V290.7H402.5V286.0H403.0V285.3H403.5V286.8H404.0V283.4H404.5V278.7H405.0V275.4H405.5V279.3H406.0V277.0H406.5V276.0H407.0V275.0H407.5V275.9H408.0V278.2H408.5V284.6H409.0V289.0H409.5V292.4H410.0V292.3H410.5V291.0H411.0V292.9H411.5V295.2H412.0V294.9H412.5V297.6H413.0V299.7H413.5V297.2H414.0V295.6H414.5V299.3H415.0V295.7H415.5V295.6H416.0V289.9H416.5V295.1H417.0V291.5H417.5V288.0H418.0V286.0H418.5V285.7H419.0V285.5H419.5V285.7H420.0V284.2H420.5V290.6H421.0V287.9H421.5V288.7H422.0V290.0H422.5V285.7H423.0V293.4H423.5V292.8H424.0V294.1H424.5V296.1H425.0V295.4H425.5V299.9H426.0V298.5H426.5V299.5H427.0V300.9H427.5V303.5H428.0V304.3H428.5V301.8H429.0V299.8H429.5V302.7H430.0V298.8H430.5V301.6H431.0V298.9H431.5V297.2H432.0V296.7H432.5V298.1H433.0V298.3H433.5V295.6H434.0V297.2H434.5V298.8H435.0V293.5H435.5V290.8H436.0V290.3H436.5V288.8H437.0V289.7H437.5V289.1H438.0V288.7H438.5V293.6H439.0V287.9H439.5V291.5H440.0V298.9H440.5V297.4H441.0V296.9H441.5V297.3H442.0V300.2H442.5V298.4H443.0V298.0H443.5V294.6H444.0V295.4H444.5V292.7H445.0V291.3H445.5V289.8H446.0V288.4H446.5V284.8H447.0V285.1H447.5V273.7H448.0V270.5H448.5V270.8H449.0V257.5H449.5V254.4H450.0V246.8H450.5V240.7H451.0V233.5H451.5V219.9H452.0V219.7H452.5V212.8H453.0V204.3H453.5V203.7H454.0V203.1H454.5V202.4H455.0V221.2H455.5V231.6H456.0V239.1H456.5V248.5H457.0V255.8H457.5V262.1H458.0V267.7H458.5V273.1H459.0V275.9H459.5V282.1H460.0V286.3H460.5V289.2H461.0V289.9H461.5V289.8H462.0V291.9H462.5V290.2H463.0V290.3H463.5V284.5H464.0V283.7H464.5V290.4H465.0V289.9H465.5V291.9H466.0V289.8H466.5V288.1H467.0V287.1H467.5V283.0H468.0V287.4H468.5V281.9H469.0V283.2H469.5V280.7H470.0V279.2H470.5V280.5H471.0V276.0H471.5V275.8H472.0V273.8H472.5V274.8H473.0V280.4H473.5V273.7H474.0V277.8H474.5V276.1H475.0V275.1H475.5V274.7H476.0V270.1H476.5V277.9H477.0V284.9H477.5V282.0H478.0V286.2H478.5V287.2H479.0V292.1H479.5V290.3H480.0V297.2H480.5V294.4H481.0V293.5H481.5V300.8H482.0V300.5H482.5V300.3H483.0V300.0H483.5V298.1H484.0V298.0H484.5V299.3H485.0V299.3H485.5V299.0H486.0V298.5H486.5V298.6H487.0V300.2H487.5V303.3H488.0V304.7H488.5V302.7H489.0V302.7H489.5V305.0H490.0V304.5H490.5V304.7H491.0V302.6H491.5V303.9H492.0V303.9H492.5V304.8H493.0V302.9H493.5V305.9H494.0V305.0H494.5V305.2H495.0V303.7H495.5V304.9H496.0V306.2H496.5V303.6H497.0V305.4H497.5V305.8H498.0V304.6H498.5V306.0H499.0V305.0H499.5V306.2H500.0V305.8H500.5V305.6H501.0V306.2H501.5V306.2H502.0V306.2H502.5V304.6H503.0V305.1H503.5V306.2H504.0V306.2H504.5V305.7H505.0V306.2H505.5V305.0H506.0V306.0H506.5V305.0H507.0V306.1H507.5V305.6H508.0V305.5H508.5V306.0H509.0V306.2H509.5V305.4H510.0V305.7" fill="none" stroke="#000" stroke-width="1.4"/>
<line x1="278.20" y1="254.90" x2="426.60" y2="254.90" stroke="#7e0c10" stroke-width="2.20"/>
<line x1="426.60" y1="249.50" x2="426.60" y2="260.80" stroke="#7e0c10" stroke-width="2.00"/>
<line x1="426.60" y1="273.70" x2="510.60" y2="273.70" stroke="#7e0c10" stroke-width="2.00"/>
<line x1="426.60" y1="267.50" x2="426.60" y2="279.60" stroke="#7e0c10" stroke-width="2.00"/>
<line x1="510.60" y1="267.50" x2="510.60" y2="279.60" stroke="#7e0c10" stroke-width="2.00"/>
<text transform="translate(341.99 241.87) scale(0.9577 1)" font-size="12.96" font-weight="bold" fill="#7c1c26">38%</text>
<text transform="translate(458.16 258.78) scale(1.0803 1)" font-size="11.69" font-weight="bold" fill="#7c1c26">62%</text>
<line x1="117.40" y1="444.60" x2="117.40" y2="613.90" stroke="#000" stroke-width="2.20"/>
<line x1="116.40" y1="612.90" x2="299.70" y2="612.90" stroke="#000" stroke-width="2.20"/>
<line x1="113.90" y1="612.90" x2="117.40" y2="612.90" stroke="#000" stroke-width="2.00"/>
<text x="113.20" y="617.30" font-size="13.70" text-anchor="end" font-weight="bold" fill="#000" letter-spacing="-0.3">0</text>
<line x1="113.90" y1="579.44" x2="117.40" y2="579.44" stroke="#000" stroke-width="2.00"/>
<text x="113.20" y="583.84" font-size="13.70" text-anchor="end" font-weight="bold" fill="#000" letter-spacing="-0.3">20</text>
<line x1="113.90" y1="545.98" x2="117.40" y2="545.98" stroke="#000" stroke-width="2.00"/>
<text x="113.20" y="550.38" font-size="13.70" text-anchor="end" font-weight="bold" fill="#000" letter-spacing="-0.3">40</text>
<line x1="113.90" y1="512.52" x2="117.40" y2="512.52" stroke="#000" stroke-width="2.00"/>
<text x="113.20" y="516.92" font-size="13.70" text-anchor="end" font-weight="bold" fill="#000" letter-spacing="-0.3">60</text>
<line x1="113.90" y1="479.06" x2="117.40" y2="479.06" stroke="#000" stroke-width="2.00"/>
<text x="113.20" y="483.46" font-size="13.70" text-anchor="end" font-weight="bold" fill="#000" letter-spacing="-0.3">80</text>
<line x1="113.90" y1="445.60" x2="117.40" y2="445.60" stroke="#000" stroke-width="2.00"/>
<text x="113.20" y="450.00" font-size="13.70" text-anchor="end" font-weight="bold" fill="#000" letter-spacing="-0.3">100</text>
<rect x="127.20" y="557.19" width="41.50" height="55.71" fill="#000"/>
<line x1="147.95" y1="536.95" x2="147.95" y2="558.19" stroke="#000" stroke-width="2.00"/>
<line x1="138.20" y1="536.95" x2="158.10" y2="536.95" stroke="#000" stroke-width="2.00"/>
<line x1="147.95" y1="612.90" x2="147.95" y2="616.40" stroke="#000" stroke-width="2.00"/>
<rect x="187.50" y="539.29" width="41.70" height="73.61" fill="#000"/>
<line x1="208.35" y1="504.82" x2="208.35" y2="540.29" stroke="#000" stroke-width="2.00"/>
<line x1="198.20" y1="504.82" x2="218.30" y2="504.82" stroke="#000" stroke-width="2.00"/>
<line x1="208.35" y1="612.90" x2="208.35" y2="616.40" stroke="#000" stroke-width="2.00"/>
<rect x="248.00" y="593.49" width="41.50" height="19.41" fill="#000"/>
<line x1="268.75" y1="580.11" x2="268.75" y2="594.49" stroke="#000" stroke-width="2.00"/>
<line x1="258.60" y1="580.11" x2="279.00" y2="580.11" stroke="#000" stroke-width="2.00"/>
<line x1="268.75" y1="612.90" x2="268.75" y2="616.40" stroke="#000" stroke-width="2.00"/>
<path d="M145.9 439.0 L145.9 430.3 L268.7 430.3 L268.7 439.0" fill="none" stroke="#000" stroke-width="1.90" stroke-linejoin="round" stroke-linejoin="miter"/>
<path d="M208.1 463.8 L208.1 455.6 L268.7 455.6 L268.7 463.8" fill="none" stroke="#000" stroke-width="1.90" stroke-linejoin="round" stroke-linejoin="miter"/>
<text transform="translate(196.64 434.89) scale(1.0655 1)" font-size="21.43" font-weight="normal" fill="#000">***</text>
<text transform="translate(221.64 460.27) scale(0.9982 1)" font-size="23.14" font-weight="normal" fill="#000">****</text>
<text transform="translate(27.76 411.50) scale(1.1238 1)" font-size="22.46" font-weight="bold" fill="#000">B</text>
<text transform="translate(52.43 580.90) rotate(-90) scale(1.1866 1)" font-size="16.87" font-weight="bold" fill="#000">CD8+ T cell</text>
<text transform="translate(74.29 599.45) rotate(-90) scale(0.9330 1)" font-size="20.53" font-weight="bold" fill="#000">Proliferation (%)</text>
<text transform="translate(107.91 705.86) scale(1.1537 1)" font-size="17.05" font-weight="bold" fill="#000">anti-CD3/anti-CD28</text>
<line x1="328.20" y1="444.20" x2="328.20" y2="613.30" stroke="#000" stroke-width="2.20"/>
<line x1="327.20" y1="612.30" x2="508.50" y2="612.30" stroke="#000" stroke-width="2.20"/>
<line x1="324.70" y1="612.30" x2="328.20" y2="612.30" stroke="#000" stroke-width="2.00"/>
<text x="323.80" y="616.70" font-size="13.70" text-anchor="end" font-weight="bold" fill="#000" letter-spacing="-0.3">0</text>
<line x1="324.70" y1="578.88" x2="328.20" y2="578.88" stroke="#000" stroke-width="2.00"/>
<text x="323.80" y="583.28" font-size="13.70" text-anchor="end" font-weight="bold" fill="#000" letter-spacing="-0.3">20</text>
<line x1="324.70" y1="545.46" x2="328.20" y2="545.46" stroke="#000" stroke-width="2.00"/>
<text x="323.80" y="549.86" font-size="13.70" text-anchor="end" font-weight="bold" fill="#000" letter-spacing="-0.3">40</text>
<line x1="324.70" y1="512.04" x2="328.20" y2="512.04" stroke="#000" stroke-width="2.00"/>
<text x="323.80" y="516.44" font-size="13.70" text-anchor="end" font-weight="bold" fill="#000" letter-spacing="-0.3">60</text>
<line x1="324.70" y1="478.62" x2="328.20" y2="478.62" stroke="#000" stroke-width="2.00"/>
<text x="323.80" y="483.02" font-size="13.70" text-anchor="end" font-weight="bold" fill="#000" letter-spacing="-0.3">80</text>
<line x1="324.70" y1="445.20" x2="328.20" y2="445.20" stroke="#000" stroke-width="2.00"/>
<text x="323.80" y="449.60" font-size="13.70" text-anchor="end" font-weight="bold" fill="#000" letter-spacing="-0.3">100</text>
<rect x="338.00" y="544.96" width="40.80" height="67.34" fill="#000"/>
<line x1="358.40" y1="519.39" x2="358.40" y2="545.96" stroke="#000" stroke-width="2.00"/>
<line x1="348.80" y1="519.39" x2="368.80" y2="519.39" stroke="#000" stroke-width="2.00"/>
<line x1="358.40" y1="612.30" x2="358.40" y2="615.80" stroke="#000" stroke-width="2.00"/>
<rect x="398.00" y="510.37" width="41.20" height="101.93" fill="#000"/>
<line x1="418.60" y1="461.07" x2="418.60" y2="511.37" stroke="#000" stroke-width="2.00"/>
<line x1="409.20" y1="461.07" x2="428.80" y2="461.07" stroke="#000" stroke-width="2.00"/>
<line x1="418.60" y1="612.30" x2="418.60" y2="615.80" stroke="#000" stroke-width="2.00"/>
<rect x="458.50" y="545.79" width="41.10" height="66.51" fill="#000"/>
<line x1="479.05" y1="500.84" x2="479.05" y2="546.79" stroke="#000" stroke-width="2.00"/>
<line x1="468.80" y1="500.84" x2="489.20" y2="500.84" stroke="#000" stroke-width="2.00"/>
<line x1="479.05" y1="612.30" x2="479.05" y2="615.80" stroke="#000" stroke-width="2.00"/>
<path d="M356.9 434.2 L356.9 425.3 L479.3 425.3 L479.3 434.2" fill="none" stroke="#000" stroke-width="1.90" stroke-linejoin="round" stroke-linejoin="miter"/>
<path d="M419.2 458.5 L419.2 450.9 L479.3 450.9 L479.3 458.5" fill="none" stroke="#000" stroke-width="1.90" stroke-linejoin="round" stroke-linejoin="miter"/>
<text transform="translate(402.49 422.44) scale(0.9815 1)" font-size="25.63" font-weight="normal" fill="#000">NS</text>
<text transform="translate(433.24 447.56) scale(1.0032 1)" font-size="24.37" font-weight="normal" fill="#000">NS</text>
<text transform="translate(309.82 412.47) scale(1.0773 1)" font-size="22.82" font-weight="bold" fill="#000">C</text>
<text transform="translate(372.91 706.64) scale(1.0892 1)" font-size="18.12" font-weight="bold" fill="#000">anti-CD3/IL-2</text>
<text transform="translate(152.20 627.40) rotate(-45)" font-size="13.60" font-weight="bold" text-anchor="end">Bc naive</text>
<text transform="translate(212.60 627.40) rotate(-45)" font-size="13.60" font-weight="bold" text-anchor="end">KO ND</text>
<text transform="translate(273.10 627.40) rotate(-45)" font-size="13.60" font-weight="bold" text-anchor="end">KO Bdep</text>
<text transform="translate(362.70 627.40) rotate(-45)" font-size="13.60" font-weight="bold" text-anchor="end">Bc naive</text>
<text transform="translate(422.90 627.40) rotate(-45)" font-size="13.60" font-weight="bold" text-anchor="end">KO ND</text>
<text transform="translate(483.30 627.40) rotate(-45)" font-size="13.60" font-weight="bold" text-anchor="end">KO Bdep</text>
</svg>
</body></html>
